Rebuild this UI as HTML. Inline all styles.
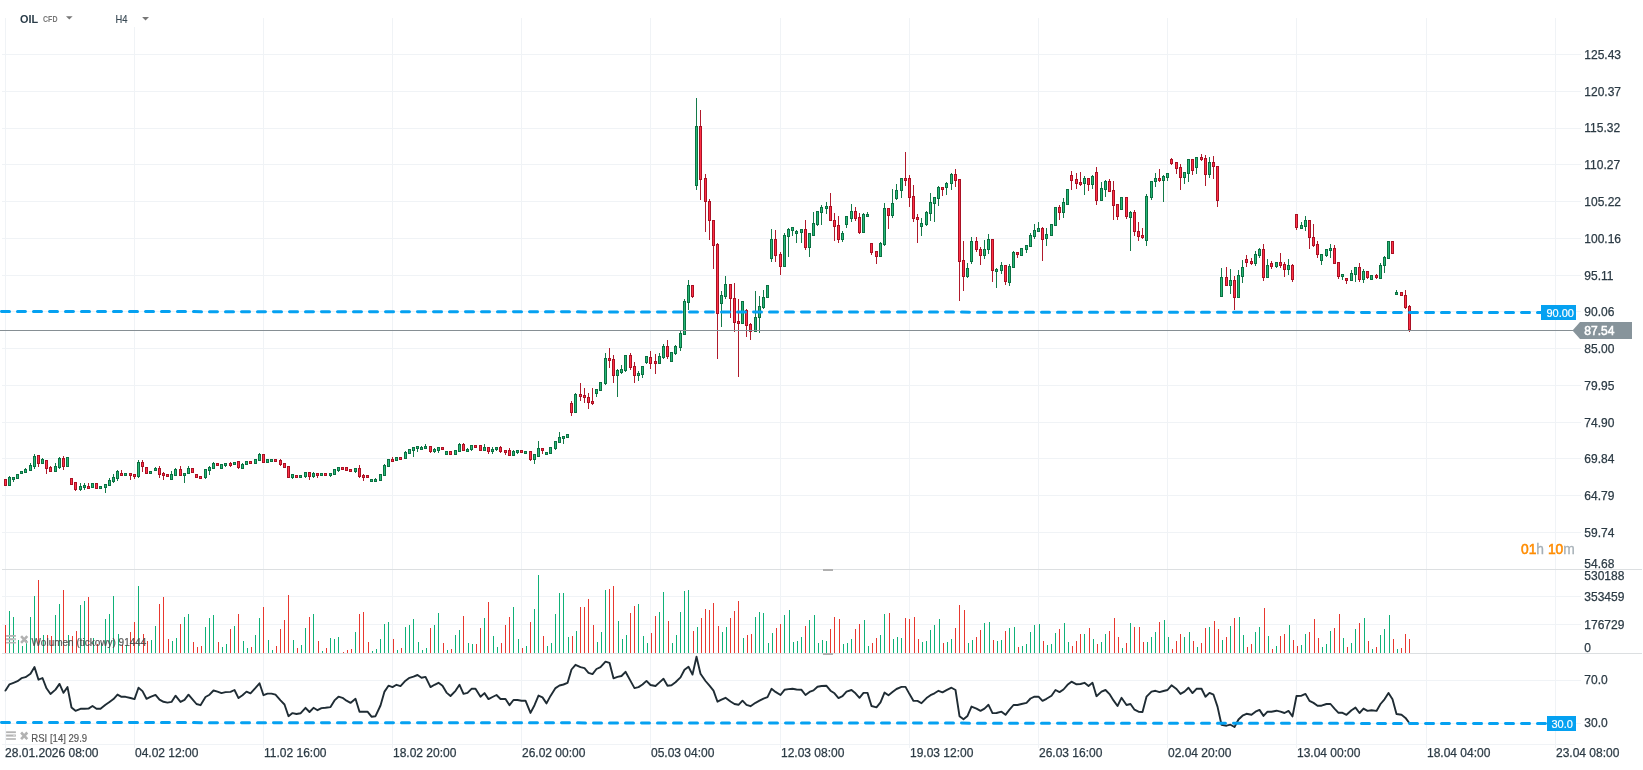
<!DOCTYPE html>
<html><head><meta charset="utf-8"><title>OIL H4</title>
<style>html,body{margin:0;padding:0;background:#fff;}body{width:1643px;height:770px;overflow:hidden;position:relative;font-family:"Liberation Sans",sans-serif;}</style>
</head><body>
<svg width="1643" height="770" viewBox="0 0 1643 770" style="position:absolute;left:0;top:0;will-change:transform">
<g shape-rendering="crispEdges">
<rect x="5" y="18" width="1" height="730" fill="#f0f3f6"/>
<rect x="134" y="27" width="1" height="721" fill="#f0f3f6"/>
<rect x="263" y="18" width="1" height="730" fill="#f0f3f6"/>
<rect x="392" y="18" width="1" height="730" fill="#f0f3f6"/>
<rect x="521" y="18" width="1" height="730" fill="#f0f3f6"/>
<rect x="650" y="18" width="1" height="730" fill="#f0f3f6"/>
<rect x="780" y="18" width="1" height="730" fill="#f0f3f6"/>
<rect x="909" y="18" width="1" height="730" fill="#f0f3f6"/>
<rect x="1038" y="18" width="1" height="730" fill="#f0f3f6"/>
<rect x="1167" y="18" width="1" height="730" fill="#f0f3f6"/>
<rect x="1296" y="18" width="1" height="730" fill="#f0f3f6"/>
<rect x="1426" y="18" width="1" height="730" fill="#f0f3f6"/>
<rect x="1555" y="18" width="1" height="730" fill="#f0f3f6"/>
<rect x="2" y="54" width="1579" height="1" fill="#f0f3f6"/>
<rect x="2" y="91" width="1579" height="1" fill="#f0f3f6"/>
<rect x="2" y="128" width="1579" height="1" fill="#f0f3f6"/>
<rect x="2" y="164" width="1579" height="1" fill="#f0f3f6"/>
<rect x="2" y="201" width="1579" height="1" fill="#f0f3f6"/>
<rect x="2" y="238" width="1579" height="1" fill="#f0f3f6"/>
<rect x="2" y="275" width="1579" height="1" fill="#f0f3f6"/>
<rect x="2" y="311" width="1579" height="1" fill="#f0f3f6"/>
<rect x="2" y="348" width="1579" height="1" fill="#f0f3f6"/>
<rect x="2" y="385" width="1579" height="1" fill="#f0f3f6"/>
<rect x="2" y="422" width="1579" height="1" fill="#f0f3f6"/>
<rect x="2" y="458" width="1579" height="1" fill="#f0f3f6"/>
<rect x="2" y="495" width="1579" height="1" fill="#f0f3f6"/>
<rect x="2" y="532" width="1579" height="1" fill="#f0f3f6"/>
<rect x="2" y="569" width="1579" height="1" fill="#f0f3f6"/>
<rect x="2" y="596" width="1579" height="1" fill="#f0f3f6"/>
<rect x="2" y="624" width="1579" height="1" fill="#f0f3f6"/>
<rect x="2" y="680" width="1579" height="1" fill="#f0f3f6"/>
<rect x="2" y="723" width="1579" height="1" fill="#f0f3f6"/>
<rect x="2" y="744" width="1573" height="1" fill="#f0f3f6"/>
<rect x="2" y="569" width="1640" height="1" fill="#dcdfe1"/>
<rect x="2" y="653" width="1640" height="1" fill="#dcdfe1"/>
<rect x="823" y="569" width="10" height="2" fill="#b0b0b0"/>
<rect x="823" y="653" width="10" height="2" fill="#b0b0b0"/>
</g>
<g shape-rendering="crispEdges">
<rect x="5" y="625" width="1" height="28" fill="#e8382f"/>
<rect x="9" y="611" width="1" height="42" fill="#0fb178"/>
<rect x="13" y="617" width="1" height="36" fill="#0fb178"/>
<rect x="18" y="640" width="1" height="13" fill="#0fb178"/>
<rect x="22" y="646" width="1" height="7" fill="#0fb178"/>
<rect x="26" y="640" width="1" height="13" fill="#0fb178"/>
<rect x="30" y="617" width="1" height="36" fill="#0fb178"/>
<rect x="34" y="596" width="1" height="57" fill="#0fb178"/>
<rect x="38" y="580" width="1" height="73" fill="#e8382f"/>
<rect x="43" y="635" width="1" height="18" fill="#0fb178"/>
<rect x="47" y="635" width="1" height="18" fill="#e8382f"/>
<rect x="51" y="636" width="1" height="17" fill="#e8382f"/>
<rect x="55" y="615" width="1" height="38" fill="#0fb178"/>
<rect x="59" y="604" width="1" height="49" fill="#0fb178"/>
<rect x="63" y="590" width="1" height="63" fill="#e8382f"/>
<rect x="68" y="635" width="1" height="18" fill="#0fb178"/>
<rect x="72" y="636" width="1" height="17" fill="#e8382f"/>
<rect x="76" y="631" width="1" height="22" fill="#e8382f"/>
<rect x="80" y="605" width="1" height="48" fill="#0fb178"/>
<rect x="84" y="601" width="1" height="52" fill="#0fb178"/>
<rect x="88" y="597" width="1" height="56" fill="#e8382f"/>
<rect x="93" y="638" width="1" height="15" fill="#0fb178"/>
<rect x="97" y="644" width="1" height="9" fill="#e8382f"/>
<rect x="101" y="643" width="1" height="10" fill="#0fb178"/>
<rect x="105" y="619" width="1" height="34" fill="#0fb178"/>
<rect x="109" y="614" width="1" height="39" fill="#0fb178"/>
<rect x="113" y="596" width="1" height="57" fill="#0fb178"/>
<rect x="118" y="634" width="1" height="19" fill="#0fb178"/>
<rect x="122" y="645" width="1" height="8" fill="#e8382f"/>
<rect x="126" y="645" width="1" height="8" fill="#0fb178"/>
<rect x="130" y="632" width="1" height="21" fill="#e8382f"/>
<rect x="134" y="622" width="1" height="31" fill="#e8382f"/>
<rect x="138" y="586" width="1" height="67" fill="#0fb178"/>
<rect x="143" y="634" width="1" height="19" fill="#e8382f"/>
<rect x="147" y="641" width="1" height="12" fill="#e8382f"/>
<rect x="151" y="640" width="1" height="13" fill="#0fb178"/>
<rect x="155" y="626" width="1" height="27" fill="#0fb178"/>
<rect x="159" y="604" width="1" height="49" fill="#e8382f"/>
<rect x="163" y="597" width="1" height="56" fill="#e8382f"/>
<rect x="168" y="639" width="1" height="14" fill="#e8382f"/>
<rect x="172" y="641" width="1" height="12" fill="#0fb178"/>
<rect x="176" y="638" width="1" height="15" fill="#0fb178"/>
<rect x="180" y="624" width="1" height="29" fill="#e8382f"/>
<rect x="184" y="617" width="1" height="36" fill="#0fb178"/>
<rect x="188" y="614" width="1" height="39" fill="#0fb178"/>
<rect x="193" y="642" width="1" height="11" fill="#e8382f"/>
<rect x="197" y="647" width="1" height="6" fill="#e8382f"/>
<rect x="201" y="646" width="1" height="7" fill="#e8382f"/>
<rect x="205" y="627" width="1" height="26" fill="#0fb178"/>
<rect x="209" y="618" width="1" height="35" fill="#0fb178"/>
<rect x="213" y="615" width="1" height="38" fill="#0fb178"/>
<rect x="218" y="642" width="1" height="11" fill="#e8382f"/>
<rect x="222" y="647" width="1" height="6" fill="#0fb178"/>
<rect x="226" y="644" width="1" height="9" fill="#0fb178"/>
<rect x="230" y="629" width="1" height="24" fill="#e8382f"/>
<rect x="234" y="626" width="1" height="27" fill="#0fb178"/>
<rect x="238" y="614" width="1" height="39" fill="#e8382f"/>
<rect x="243" y="641" width="1" height="12" fill="#0fb178"/>
<rect x="247" y="648" width="1" height="5" fill="#0fb178"/>
<rect x="251" y="647" width="1" height="6" fill="#e8382f"/>
<rect x="255" y="635" width="1" height="18" fill="#0fb178"/>
<rect x="259" y="618" width="1" height="35" fill="#0fb178"/>
<rect x="263" y="607" width="1" height="46" fill="#e8382f"/>
<rect x="268" y="640" width="1" height="13" fill="#0fb178"/>
<rect x="272" y="650" width="1" height="3" fill="#0fb178"/>
<rect x="276" y="646" width="1" height="7" fill="#e8382f"/>
<rect x="280" y="629" width="1" height="24" fill="#e8382f"/>
<rect x="284" y="620" width="1" height="33" fill="#e8382f"/>
<rect x="288" y="595" width="1" height="58" fill="#e8382f"/>
<rect x="293" y="640" width="1" height="13" fill="#0fb178"/>
<rect x="297" y="648" width="1" height="5" fill="#e8382f"/>
<rect x="301" y="645" width="1" height="8" fill="#0fb178"/>
<rect x="305" y="628" width="1" height="25" fill="#0fb178"/>
<rect x="309" y="617" width="1" height="36" fill="#e8382f"/>
<rect x="313" y="614" width="1" height="39" fill="#0fb178"/>
<rect x="318" y="641" width="1" height="12" fill="#e8382f"/>
<rect x="322" y="651" width="1" height="2" fill="#0fb178"/>
<rect x="326" y="648" width="1" height="5" fill="#e8382f"/>
<rect x="330" y="638" width="1" height="15" fill="#0fb178"/>
<rect x="334" y="639" width="1" height="14" fill="#0fb178"/>
<rect x="338" y="637" width="1" height="16" fill="#0fb178"/>
<rect x="343" y="652" width="1" height="1" fill="#e8382f"/>
<rect x="347" y="650" width="1" height="3" fill="#e8382f"/>
<rect x="351" y="649" width="1" height="4" fill="#e8382f"/>
<rect x="355" y="632" width="1" height="21" fill="#0fb178"/>
<rect x="359" y="614" width="1" height="39" fill="#e8382f"/>
<rect x="363" y="612" width="1" height="41" fill="#e8382f"/>
<rect x="368" y="642" width="1" height="11" fill="#e8382f"/>
<rect x="372" y="651" width="1" height="2" fill="#0fb178"/>
<rect x="376" y="649" width="1" height="4" fill="#0fb178"/>
<rect x="380" y="639" width="1" height="14" fill="#0fb178"/>
<rect x="384" y="624" width="1" height="29" fill="#0fb178"/>
<rect x="388" y="622" width="1" height="31" fill="#0fb178"/>
<rect x="393" y="639" width="1" height="14" fill="#e8382f"/>
<rect x="397" y="650" width="1" height="3" fill="#0fb178"/>
<rect x="401" y="648" width="1" height="5" fill="#e8382f"/>
<rect x="405" y="627" width="1" height="26" fill="#0fb178"/>
<rect x="409" y="625" width="1" height="28" fill="#0fb178"/>
<rect x="413" y="619" width="1" height="34" fill="#0fb178"/>
<rect x="418" y="642" width="1" height="11" fill="#0fb178"/>
<rect x="422" y="650" width="1" height="3" fill="#0fb178"/>
<rect x="426" y="648" width="1" height="5" fill="#0fb178"/>
<rect x="430" y="628" width="1" height="25" fill="#e8382f"/>
<rect x="434" y="625" width="1" height="28" fill="#0fb178"/>
<rect x="438" y="613" width="1" height="40" fill="#0fb178"/>
<rect x="443" y="643" width="1" height="10" fill="#e8382f"/>
<rect x="447" y="650" width="1" height="3" fill="#0fb178"/>
<rect x="451" y="649" width="1" height="4" fill="#e8382f"/>
<rect x="455" y="635" width="1" height="18" fill="#0fb178"/>
<rect x="459" y="630" width="1" height="23" fill="#0fb178"/>
<rect x="463" y="616" width="1" height="37" fill="#e8382f"/>
<rect x="468" y="643" width="1" height="10" fill="#0fb178"/>
<rect x="472" y="644" width="1" height="9" fill="#0fb178"/>
<rect x="476" y="644" width="1" height="9" fill="#e8382f"/>
<rect x="480" y="628" width="1" height="25" fill="#e8382f"/>
<rect x="484" y="618" width="1" height="35" fill="#0fb178"/>
<rect x="488" y="602" width="1" height="51" fill="#e8382f"/>
<rect x="493" y="636" width="1" height="17" fill="#0fb178"/>
<rect x="497" y="647" width="1" height="6" fill="#0fb178"/>
<rect x="501" y="643" width="1" height="10" fill="#e8382f"/>
<rect x="505" y="625" width="1" height="28" fill="#e8382f"/>
<rect x="509" y="617" width="1" height="36" fill="#e8382f"/>
<rect x="513" y="607" width="1" height="46" fill="#0fb178"/>
<rect x="518" y="639" width="1" height="14" fill="#0fb178"/>
<rect x="522" y="648" width="1" height="5" fill="#e8382f"/>
<rect x="526" y="646" width="1" height="7" fill="#0fb178"/>
<rect x="530" y="622" width="1" height="31" fill="#e8382f"/>
<rect x="534" y="609" width="1" height="44" fill="#0fb178"/>
<rect x="538" y="575" width="1" height="78" fill="#0fb178"/>
<rect x="543" y="636" width="1" height="17" fill="#e8382f"/>
<rect x="547" y="646" width="1" height="7" fill="#0fb178"/>
<rect x="551" y="643" width="1" height="10" fill="#0fb178"/>
<rect x="555" y="614" width="1" height="39" fill="#0fb178"/>
<rect x="559" y="593" width="1" height="60" fill="#0fb178"/>
<rect x="563" y="593" width="1" height="60" fill="#0fb178"/>
<rect x="568" y="637" width="1" height="16" fill="#0fb178"/>
<rect x="572" y="636" width="1" height="17" fill="#e8382f"/>
<rect x="576" y="631" width="1" height="22" fill="#0fb178"/>
<rect x="580" y="607" width="1" height="46" fill="#e8382f"/>
<rect x="584" y="607" width="1" height="46" fill="#e8382f"/>
<rect x="588" y="599" width="1" height="54" fill="#e8382f"/>
<rect x="593" y="625" width="1" height="28" fill="#e8382f"/>
<rect x="597" y="642" width="1" height="11" fill="#0fb178"/>
<rect x="601" y="632" width="1" height="21" fill="#0fb178"/>
<rect x="605" y="590" width="1" height="63" fill="#0fb178"/>
<rect x="609" y="589" width="1" height="64" fill="#e8382f"/>
<rect x="613" y="586" width="1" height="67" fill="#e8382f"/>
<rect x="618" y="621" width="1" height="32" fill="#0fb178"/>
<rect x="622" y="639" width="1" height="14" fill="#0fb178"/>
<rect x="626" y="635" width="1" height="18" fill="#0fb178"/>
<rect x="630" y="613" width="1" height="40" fill="#e8382f"/>
<rect x="634" y="606" width="1" height="47" fill="#e8382f"/>
<rect x="638" y="604" width="1" height="49" fill="#0fb178"/>
<rect x="643" y="636" width="1" height="17" fill="#0fb178"/>
<rect x="647" y="643" width="1" height="10" fill="#0fb178"/>
<rect x="651" y="633" width="1" height="20" fill="#e8382f"/>
<rect x="655" y="616" width="1" height="37" fill="#e8382f"/>
<rect x="659" y="612" width="1" height="41" fill="#0fb178"/>
<rect x="663" y="592" width="1" height="61" fill="#0fb178"/>
<rect x="668" y="621" width="1" height="32" fill="#e8382f"/>
<rect x="672" y="643" width="1" height="10" fill="#0fb178"/>
<rect x="676" y="635" width="1" height="18" fill="#0fb178"/>
<rect x="680" y="612" width="1" height="41" fill="#0fb178"/>
<rect x="684" y="591" width="1" height="62" fill="#0fb178"/>
<rect x="688" y="590" width="1" height="63" fill="#0fb178"/>
<rect x="693" y="631" width="1" height="22" fill="#e8382f"/>
<rect x="697" y="627" width="1" height="26" fill="#0fb178"/>
<rect x="701" y="618" width="1" height="35" fill="#e8382f"/>
<rect x="705" y="609" width="1" height="44" fill="#e8382f"/>
<rect x="709" y="610" width="1" height="43" fill="#e8382f"/>
<rect x="713" y="603" width="1" height="50" fill="#e8382f"/>
<rect x="718" y="626" width="1" height="27" fill="#e8382f"/>
<rect x="722" y="632" width="1" height="21" fill="#0fb178"/>
<rect x="726" y="627" width="1" height="26" fill="#0fb178"/>
<rect x="730" y="618" width="1" height="35" fill="#e8382f"/>
<rect x="734" y="611" width="1" height="42" fill="#e8382f"/>
<rect x="738" y="601" width="1" height="52" fill="#e8382f"/>
<rect x="743" y="638" width="1" height="15" fill="#0fb178"/>
<rect x="747" y="635" width="1" height="18" fill="#e8382f"/>
<rect x="751" y="634" width="1" height="19" fill="#e8382f"/>
<rect x="755" y="617" width="1" height="36" fill="#0fb178"/>
<rect x="759" y="612" width="1" height="41" fill="#0fb178"/>
<rect x="763" y="613" width="1" height="40" fill="#0fb178"/>
<rect x="768" y="643" width="1" height="10" fill="#0fb178"/>
<rect x="772" y="633" width="1" height="20" fill="#0fb178"/>
<rect x="776" y="628" width="1" height="25" fill="#e8382f"/>
<rect x="780" y="624" width="1" height="29" fill="#e8382f"/>
<rect x="784" y="615" width="1" height="38" fill="#0fb178"/>
<rect x="789" y="610" width="1" height="43" fill="#0fb178"/>
<rect x="793" y="642" width="1" height="11" fill="#0fb178"/>
<rect x="797" y="641" width="1" height="12" fill="#0fb178"/>
<rect x="801" y="637" width="1" height="16" fill="#0fb178"/>
<rect x="805" y="626" width="1" height="27" fill="#e8382f"/>
<rect x="809" y="620" width="1" height="33" fill="#0fb178"/>
<rect x="814" y="615" width="1" height="38" fill="#0fb178"/>
<rect x="818" y="643" width="1" height="10" fill="#0fb178"/>
<rect x="822" y="640" width="1" height="13" fill="#0fb178"/>
<rect x="826" y="641" width="1" height="12" fill="#0fb178"/>
<rect x="830" y="629" width="1" height="24" fill="#e8382f"/>
<rect x="834" y="617" width="1" height="36" fill="#e8382f"/>
<rect x="839" y="619" width="1" height="34" fill="#e8382f"/>
<rect x="843" y="644" width="1" height="9" fill="#0fb178"/>
<rect x="847" y="643" width="1" height="10" fill="#0fb178"/>
<rect x="851" y="639" width="1" height="14" fill="#0fb178"/>
<rect x="855" y="629" width="1" height="24" fill="#e8382f"/>
<rect x="859" y="624" width="1" height="29" fill="#e8382f"/>
<rect x="864" y="620" width="1" height="33" fill="#0fb178"/>
<rect x="868" y="646" width="1" height="7" fill="#0fb178"/>
<rect x="872" y="643" width="1" height="10" fill="#e8382f"/>
<rect x="876" y="638" width="1" height="15" fill="#e8382f"/>
<rect x="880" y="635" width="1" height="18" fill="#0fb178"/>
<rect x="884" y="614" width="1" height="39" fill="#0fb178"/>
<rect x="889" y="613" width="1" height="40" fill="#e8382f"/>
<rect x="893" y="639" width="1" height="14" fill="#0fb178"/>
<rect x="897" y="637" width="1" height="16" fill="#0fb178"/>
<rect x="901" y="638" width="1" height="15" fill="#0fb178"/>
<rect x="905" y="618" width="1" height="35" fill="#e8382f"/>
<rect x="909" y="619" width="1" height="34" fill="#e8382f"/>
<rect x="914" y="617" width="1" height="36" fill="#e8382f"/>
<rect x="918" y="639" width="1" height="14" fill="#e8382f"/>
<rect x="922" y="642" width="1" height="11" fill="#0fb178"/>
<rect x="926" y="641" width="1" height="12" fill="#0fb178"/>
<rect x="930" y="630" width="1" height="23" fill="#0fb178"/>
<rect x="934" y="625" width="1" height="28" fill="#0fb178"/>
<rect x="939" y="619" width="1" height="34" fill="#0fb178"/>
<rect x="943" y="643" width="1" height="10" fill="#e8382f"/>
<rect x="947" y="642" width="1" height="11" fill="#0fb178"/>
<rect x="951" y="639" width="1" height="14" fill="#0fb178"/>
<rect x="955" y="628" width="1" height="25" fill="#e8382f"/>
<rect x="959" y="605" width="1" height="48" fill="#e8382f"/>
<rect x="964" y="610" width="1" height="43" fill="#e8382f"/>
<rect x="968" y="643" width="1" height="10" fill="#0fb178"/>
<rect x="972" y="640" width="1" height="13" fill="#0fb178"/>
<rect x="976" y="637" width="1" height="16" fill="#e8382f"/>
<rect x="980" y="630" width="1" height="23" fill="#e8382f"/>
<rect x="984" y="623" width="1" height="30" fill="#0fb178"/>
<rect x="989" y="622" width="1" height="31" fill="#0fb178"/>
<rect x="993" y="640" width="1" height="13" fill="#e8382f"/>
<rect x="997" y="641" width="1" height="12" fill="#0fb178"/>
<rect x="1001" y="640" width="1" height="13" fill="#0fb178"/>
<rect x="1005" y="631" width="1" height="22" fill="#e8382f"/>
<rect x="1009" y="628" width="1" height="25" fill="#0fb178"/>
<rect x="1014" y="627" width="1" height="26" fill="#0fb178"/>
<rect x="1018" y="647" width="1" height="6" fill="#e8382f"/>
<rect x="1022" y="646" width="1" height="7" fill="#0fb178"/>
<rect x="1026" y="644" width="1" height="9" fill="#0fb178"/>
<rect x="1030" y="632" width="1" height="21" fill="#0fb178"/>
<rect x="1034" y="625" width="1" height="28" fill="#0fb178"/>
<rect x="1039" y="624" width="1" height="29" fill="#0fb178"/>
<rect x="1043" y="641" width="1" height="12" fill="#e8382f"/>
<rect x="1047" y="645" width="1" height="8" fill="#0fb178"/>
<rect x="1051" y="644" width="1" height="9" fill="#0fb178"/>
<rect x="1055" y="633" width="1" height="20" fill="#0fb178"/>
<rect x="1059" y="629" width="1" height="24" fill="#e8382f"/>
<rect x="1064" y="623" width="1" height="30" fill="#0fb178"/>
<rect x="1068" y="642" width="1" height="11" fill="#0fb178"/>
<rect x="1072" y="646" width="1" height="7" fill="#e8382f"/>
<rect x="1076" y="641" width="1" height="12" fill="#e8382f"/>
<rect x="1080" y="634" width="1" height="19" fill="#e8382f"/>
<rect x="1084" y="634" width="1" height="19" fill="#0fb178"/>
<rect x="1089" y="628" width="1" height="25" fill="#e8382f"/>
<rect x="1093" y="639" width="1" height="14" fill="#0fb178"/>
<rect x="1097" y="644" width="1" height="9" fill="#e8382f"/>
<rect x="1101" y="642" width="1" height="11" fill="#0fb178"/>
<rect x="1105" y="634" width="1" height="19" fill="#0fb178"/>
<rect x="1109" y="631" width="1" height="22" fill="#e8382f"/>
<rect x="1114" y="618" width="1" height="35" fill="#e8382f"/>
<rect x="1118" y="637" width="1" height="16" fill="#e8382f"/>
<rect x="1122" y="648" width="1" height="5" fill="#0fb178"/>
<rect x="1126" y="643" width="1" height="10" fill="#e8382f"/>
<rect x="1130" y="623" width="1" height="30" fill="#0fb178"/>
<rect x="1134" y="627" width="1" height="26" fill="#e8382f"/>
<rect x="1139" y="627" width="1" height="26" fill="#e8382f"/>
<rect x="1143" y="642" width="1" height="11" fill="#e8382f"/>
<rect x="1147" y="642" width="1" height="11" fill="#0fb178"/>
<rect x="1151" y="637" width="1" height="16" fill="#0fb178"/>
<rect x="1155" y="632" width="1" height="21" fill="#0fb178"/>
<rect x="1159" y="622" width="1" height="31" fill="#e8382f"/>
<rect x="1164" y="620" width="1" height="33" fill="#0fb178"/>
<rect x="1168" y="637" width="1" height="16" fill="#0fb178"/>
<rect x="1172" y="649" width="1" height="4" fill="#e8382f"/>
<rect x="1176" y="641" width="1" height="12" fill="#e8382f"/>
<rect x="1180" y="634" width="1" height="19" fill="#e8382f"/>
<rect x="1184" y="637" width="1" height="16" fill="#0fb178"/>
<rect x="1189" y="632" width="1" height="21" fill="#0fb178"/>
<rect x="1193" y="641" width="1" height="12" fill="#e8382f"/>
<rect x="1197" y="647" width="1" height="6" fill="#0fb178"/>
<rect x="1201" y="643" width="1" height="10" fill="#e8382f"/>
<rect x="1205" y="628" width="1" height="25" fill="#e8382f"/>
<rect x="1209" y="627" width="1" height="26" fill="#0fb178"/>
<rect x="1214" y="621" width="1" height="32" fill="#e8382f"/>
<rect x="1218" y="629" width="1" height="24" fill="#e8382f"/>
<rect x="1222" y="640" width="1" height="13" fill="#0fb178"/>
<rect x="1226" y="637" width="1" height="16" fill="#e8382f"/>
<rect x="1230" y="626" width="1" height="27" fill="#0fb178"/>
<rect x="1234" y="618" width="1" height="35" fill="#e8382f"/>
<rect x="1239" y="617" width="1" height="36" fill="#0fb178"/>
<rect x="1243" y="635" width="1" height="18" fill="#0fb178"/>
<rect x="1247" y="647" width="1" height="6" fill="#e8382f"/>
<rect x="1251" y="644" width="1" height="9" fill="#e8382f"/>
<rect x="1255" y="632" width="1" height="21" fill="#0fb178"/>
<rect x="1259" y="627" width="1" height="26" fill="#0fb178"/>
<rect x="1264" y="608" width="1" height="45" fill="#e8382f"/>
<rect x="1268" y="636" width="1" height="17" fill="#0fb178"/>
<rect x="1272" y="649" width="1" height="4" fill="#e8382f"/>
<rect x="1276" y="646" width="1" height="7" fill="#0fb178"/>
<rect x="1280" y="636" width="1" height="17" fill="#e8382f"/>
<rect x="1284" y="634" width="1" height="19" fill="#e8382f"/>
<rect x="1289" y="625" width="1" height="28" fill="#0fb178"/>
<rect x="1293" y="640" width="1" height="13" fill="#e8382f"/>
<rect x="1297" y="646" width="1" height="7" fill="#e8382f"/>
<rect x="1301" y="645" width="1" height="8" fill="#0fb178"/>
<rect x="1305" y="634" width="1" height="19" fill="#0fb178"/>
<rect x="1309" y="632" width="1" height="21" fill="#e8382f"/>
<rect x="1314" y="619" width="1" height="34" fill="#e8382f"/>
<rect x="1318" y="638" width="1" height="15" fill="#e8382f"/>
<rect x="1322" y="647" width="1" height="6" fill="#0fb178"/>
<rect x="1326" y="644" width="1" height="9" fill="#0fb178"/>
<rect x="1330" y="631" width="1" height="22" fill="#0fb178"/>
<rect x="1334" y="628" width="1" height="25" fill="#e8382f"/>
<rect x="1339" y="614" width="1" height="39" fill="#e8382f"/>
<rect x="1343" y="638" width="1" height="15" fill="#0fb178"/>
<rect x="1347" y="647" width="1" height="6" fill="#e8382f"/>
<rect x="1351" y="643" width="1" height="10" fill="#0fb178"/>
<rect x="1355" y="629" width="1" height="24" fill="#0fb178"/>
<rect x="1359" y="623" width="1" height="30" fill="#e8382f"/>
<rect x="1364" y="618" width="1" height="35" fill="#0fb178"/>
<rect x="1368" y="641" width="1" height="12" fill="#e8382f"/>
<rect x="1372" y="649" width="1" height="4" fill="#0fb178"/>
<rect x="1376" y="647" width="1" height="6" fill="#e8382f"/>
<rect x="1380" y="635" width="1" height="18" fill="#0fb178"/>
<rect x="1384" y="629" width="1" height="24" fill="#0fb178"/>
<rect x="1389" y="615" width="1" height="38" fill="#0fb178"/>
<rect x="1393" y="639" width="1" height="14" fill="#e8382f"/>
<rect x="1397" y="649" width="1" height="4" fill="#0fb178"/>
<rect x="1401" y="648" width="1" height="5" fill="#e8382f"/>
<rect x="1405" y="634" width="1" height="19" fill="#e8382f"/>
<rect x="1409" y="639" width="1" height="14" fill="#e8382f"/>
</g>
<g shape-rendering="crispEdges">
<rect x="4" y="479" width="3" height="7" fill="#aa1124"/>
<rect x="5" y="480" width="1" height="5" fill="#ff3046"/>
<rect x="9" y="476" width="1" height="10" fill="#147a4a"/>
<rect x="8" y="477" width="3" height="9" fill="#0b7142"/>
<rect x="9" y="478" width="1" height="7" fill="#26b777"/>
<rect x="13" y="477" width="1" height="5" fill="#147a4a"/>
<rect x="12" y="477" width="3" height="3" fill="#0b7142"/>
<rect x="13" y="478" width="1" height="1" fill="#26b777"/>
<rect x="16" y="474" width="3" height="5" fill="#0b7142"/>
<rect x="17" y="475" width="1" height="3" fill="#26b777"/>
<rect x="20" y="471" width="3" height="3" fill="#0b7142"/>
<rect x="21" y="472" width="1" height="1" fill="#26b777"/>
<rect x="25" y="468" width="1" height="5" fill="#147a4a"/>
<rect x="24" y="469" width="3" height="4" fill="#0b7142"/>
<rect x="25" y="470" width="1" height="2" fill="#26b777"/>
<rect x="30" y="463" width="1" height="8" fill="#147a4a"/>
<rect x="29" y="465" width="3" height="6" fill="#0b7142"/>
<rect x="30" y="466" width="1" height="4" fill="#26b777"/>
<rect x="34" y="454" width="1" height="15" fill="#147a4a"/>
<rect x="33" y="456" width="3" height="11" fill="#0b7142"/>
<rect x="34" y="457" width="1" height="9" fill="#26b777"/>
<rect x="38" y="455" width="1" height="12" fill="#b01a2c"/>
<rect x="37" y="455" width="3" height="9" fill="#aa1124"/>
<rect x="38" y="456" width="1" height="7" fill="#ff3046"/>
<rect x="42" y="458" width="1" height="6" fill="#147a4a"/>
<rect x="41" y="459" width="3" height="5" fill="#0b7142"/>
<rect x="42" y="460" width="1" height="3" fill="#26b777"/>
<rect x="46" y="460" width="1" height="14" fill="#b01a2c"/>
<rect x="45" y="460" width="3" height="9" fill="#aa1124"/>
<rect x="46" y="461" width="1" height="7" fill="#ff3046"/>
<rect x="50" y="466" width="1" height="6" fill="#b01a2c"/>
<rect x="49" y="467" width="3" height="5" fill="#aa1124"/>
<rect x="50" y="468" width="1" height="3" fill="#ff3046"/>
<rect x="55" y="463" width="1" height="9" fill="#147a4a"/>
<rect x="54" y="466" width="3" height="6" fill="#0b7142"/>
<rect x="55" y="467" width="1" height="4" fill="#26b777"/>
<rect x="59" y="457" width="1" height="12" fill="#147a4a"/>
<rect x="58" y="458" width="3" height="10" fill="#0b7142"/>
<rect x="59" y="459" width="1" height="8" fill="#26b777"/>
<rect x="63" y="456" width="1" height="14" fill="#b01a2c"/>
<rect x="62" y="458" width="3" height="9" fill="#aa1124"/>
<rect x="63" y="459" width="1" height="7" fill="#ff3046"/>
<rect x="66" y="457" width="3" height="10" fill="#0b7142"/>
<rect x="67" y="458" width="1" height="8" fill="#26b777"/>
<rect x="70" y="478" width="3" height="7" fill="#aa1124"/>
<rect x="71" y="479" width="1" height="5" fill="#ff3046"/>
<rect x="75" y="482" width="1" height="9" fill="#b01a2c"/>
<rect x="74" y="482" width="3" height="8" fill="#aa1124"/>
<rect x="75" y="483" width="1" height="6" fill="#ff3046"/>
<rect x="80" y="483" width="1" height="8" fill="#147a4a"/>
<rect x="79" y="486" width="3" height="4" fill="#0b7142"/>
<rect x="80" y="487" width="1" height="2" fill="#26b777"/>
<rect x="84" y="483" width="1" height="7" fill="#147a4a"/>
<rect x="83" y="485" width="3" height="3" fill="#0b7142"/>
<rect x="84" y="486" width="1" height="1" fill="#26b777"/>
<rect x="88" y="483" width="1" height="6" fill="#b01a2c"/>
<rect x="87" y="486" width="3" height="3" fill="#aa1124"/>
<rect x="88" y="487" width="1" height="1" fill="#ff3046"/>
<rect x="91" y="483" width="3" height="5" fill="#0b7142"/>
<rect x="92" y="484" width="1" height="3" fill="#26b777"/>
<rect x="95" y="483" width="3" height="6" fill="#aa1124"/>
<rect x="96" y="484" width="1" height="4" fill="#ff3046"/>
<rect x="99" y="486" width="3" height="3" fill="#0b7142"/>
<rect x="100" y="487" width="1" height="1" fill="#26b777"/>
<rect x="105" y="484" width="1" height="9" fill="#147a4a"/>
<rect x="104" y="484" width="3" height="4" fill="#0b7142"/>
<rect x="105" y="485" width="1" height="2" fill="#26b777"/>
<rect x="109" y="478" width="1" height="8" fill="#147a4a"/>
<rect x="108" y="480" width="3" height="6" fill="#0b7142"/>
<rect x="109" y="481" width="1" height="4" fill="#26b777"/>
<rect x="113" y="474" width="1" height="9" fill="#147a4a"/>
<rect x="112" y="477" width="3" height="5" fill="#0b7142"/>
<rect x="113" y="478" width="1" height="3" fill="#26b777"/>
<rect x="117" y="470" width="1" height="11" fill="#147a4a"/>
<rect x="116" y="471" width="3" height="8" fill="#0b7142"/>
<rect x="117" y="472" width="1" height="6" fill="#26b777"/>
<rect x="121" y="470" width="1" height="6" fill="#b01a2c"/>
<rect x="120" y="473" width="3" height="3" fill="#aa1124"/>
<rect x="121" y="474" width="1" height="1" fill="#ff3046"/>
<rect x="124" y="473" width="3" height="3" fill="#0b7142"/>
<rect x="125" y="474" width="1" height="1" fill="#26b777"/>
<rect x="130" y="473" width="1" height="7" fill="#b01a2c"/>
<rect x="129" y="473" width="3" height="3" fill="#aa1124"/>
<rect x="130" y="474" width="1" height="1" fill="#ff3046"/>
<rect x="134" y="474" width="1" height="5" fill="#b01a2c"/>
<rect x="133" y="474" width="3" height="3" fill="#aa1124"/>
<rect x="134" y="475" width="1" height="1" fill="#ff3046"/>
<rect x="138" y="460" width="1" height="18" fill="#147a4a"/>
<rect x="137" y="462" width="3" height="15" fill="#0b7142"/>
<rect x="138" y="463" width="1" height="13" fill="#26b777"/>
<rect x="142" y="460" width="1" height="12" fill="#b01a2c"/>
<rect x="141" y="462" width="3" height="5" fill="#aa1124"/>
<rect x="142" y="463" width="1" height="3" fill="#ff3046"/>
<rect x="145" y="467" width="3" height="7" fill="#aa1124"/>
<rect x="146" y="468" width="1" height="5" fill="#ff3046"/>
<rect x="149" y="471" width="3" height="3" fill="#0b7142"/>
<rect x="150" y="472" width="1" height="1" fill="#26b777"/>
<rect x="155" y="467" width="1" height="4" fill="#147a4a"/>
<rect x="154" y="468" width="3" height="3" fill="#0b7142"/>
<rect x="155" y="469" width="1" height="1" fill="#26b777"/>
<rect x="159" y="466" width="1" height="12" fill="#b01a2c"/>
<rect x="158" y="468" width="3" height="7" fill="#aa1124"/>
<rect x="159" y="469" width="1" height="5" fill="#ff3046"/>
<rect x="163" y="472" width="1" height="8" fill="#b01a2c"/>
<rect x="162" y="473" width="3" height="3" fill="#aa1124"/>
<rect x="163" y="474" width="1" height="1" fill="#ff3046"/>
<rect x="166" y="474" width="3" height="3" fill="#aa1124"/>
<rect x="167" y="475" width="1" height="1" fill="#ff3046"/>
<rect x="171" y="471" width="1" height="9" fill="#147a4a"/>
<rect x="170" y="474" width="3" height="6" fill="#0b7142"/>
<rect x="171" y="475" width="1" height="4" fill="#26b777"/>
<rect x="175" y="468" width="1" height="8" fill="#147a4a"/>
<rect x="174" y="469" width="3" height="7" fill="#0b7142"/>
<rect x="175" y="470" width="1" height="5" fill="#26b777"/>
<rect x="180" y="466" width="1" height="10" fill="#b01a2c"/>
<rect x="179" y="469" width="3" height="7" fill="#aa1124"/>
<rect x="180" y="470" width="1" height="5" fill="#ff3046"/>
<rect x="184" y="473" width="1" height="10" fill="#147a4a"/>
<rect x="183" y="473" width="3" height="3" fill="#0b7142"/>
<rect x="184" y="474" width="1" height="1" fill="#26b777"/>
<rect x="188" y="466" width="1" height="8" fill="#147a4a"/>
<rect x="187" y="468" width="3" height="6" fill="#0b7142"/>
<rect x="188" y="469" width="1" height="4" fill="#26b777"/>
<rect x="191" y="468" width="3" height="5" fill="#aa1124"/>
<rect x="192" y="469" width="1" height="3" fill="#ff3046"/>
<rect x="195" y="474" width="3" height="4" fill="#aa1124"/>
<rect x="196" y="475" width="1" height="2" fill="#ff3046"/>
<rect x="199" y="476" width="3" height="3" fill="#aa1124"/>
<rect x="200" y="477" width="1" height="1" fill="#ff3046"/>
<rect x="205" y="469" width="1" height="10" fill="#147a4a"/>
<rect x="204" y="469" width="3" height="9" fill="#0b7142"/>
<rect x="205" y="470" width="1" height="7" fill="#26b777"/>
<rect x="209" y="466" width="1" height="9" fill="#147a4a"/>
<rect x="208" y="467" width="3" height="4" fill="#0b7142"/>
<rect x="209" y="468" width="1" height="2" fill="#26b777"/>
<rect x="213" y="462" width="1" height="7" fill="#147a4a"/>
<rect x="212" y="463" width="3" height="6" fill="#0b7142"/>
<rect x="213" y="464" width="1" height="4" fill="#26b777"/>
<rect x="216" y="463" width="3" height="3" fill="#aa1124"/>
<rect x="217" y="464" width="1" height="1" fill="#ff3046"/>
<rect x="220" y="464" width="3" height="5" fill="#0b7142"/>
<rect x="221" y="465" width="1" height="3" fill="#26b777"/>
<rect x="225" y="463" width="1" height="4" fill="#147a4a"/>
<rect x="224" y="463" width="3" height="3" fill="#0b7142"/>
<rect x="225" y="464" width="1" height="1" fill="#26b777"/>
<rect x="230" y="462" width="1" height="5" fill="#b01a2c"/>
<rect x="229" y="463" width="3" height="3" fill="#aa1124"/>
<rect x="230" y="464" width="1" height="1" fill="#ff3046"/>
<rect x="233" y="462" width="3" height="3" fill="#0b7142"/>
<rect x="234" y="463" width="1" height="1" fill="#26b777"/>
<rect x="238" y="461" width="1" height="8" fill="#b01a2c"/>
<rect x="237" y="461" width="3" height="7" fill="#aa1124"/>
<rect x="238" y="462" width="1" height="5" fill="#ff3046"/>
<rect x="242" y="463" width="1" height="6" fill="#147a4a"/>
<rect x="241" y="464" width="3" height="5" fill="#0b7142"/>
<rect x="242" y="465" width="1" height="3" fill="#26b777"/>
<rect x="245" y="461" width="3" height="4" fill="#0b7142"/>
<rect x="246" y="462" width="1" height="2" fill="#26b777"/>
<rect x="249" y="461" width="3" height="3" fill="#aa1124"/>
<rect x="250" y="462" width="1" height="1" fill="#ff3046"/>
<rect x="254" y="459" width="3" height="5" fill="#0b7142"/>
<rect x="255" y="460" width="1" height="3" fill="#26b777"/>
<rect x="259" y="453" width="1" height="8" fill="#147a4a"/>
<rect x="258" y="454" width="3" height="7" fill="#0b7142"/>
<rect x="259" y="455" width="1" height="5" fill="#26b777"/>
<rect x="262" y="454" width="3" height="9" fill="#aa1124"/>
<rect x="263" y="455" width="1" height="7" fill="#ff3046"/>
<rect x="266" y="459" width="3" height="4" fill="#0b7142"/>
<rect x="267" y="460" width="1" height="2" fill="#26b777"/>
<rect x="270" y="459" width="3" height="3" fill="#0b7142"/>
<rect x="271" y="460" width="1" height="1" fill="#26b777"/>
<rect x="274" y="459" width="3" height="3" fill="#aa1124"/>
<rect x="275" y="460" width="1" height="1" fill="#ff3046"/>
<rect x="280" y="459" width="1" height="7" fill="#b01a2c"/>
<rect x="279" y="460" width="3" height="5" fill="#aa1124"/>
<rect x="280" y="461" width="1" height="3" fill="#ff3046"/>
<rect x="283" y="463" width="3" height="5" fill="#aa1124"/>
<rect x="284" y="464" width="1" height="3" fill="#ff3046"/>
<rect x="287" y="466" width="3" height="12" fill="#aa1124"/>
<rect x="288" y="467" width="1" height="10" fill="#ff3046"/>
<rect x="292" y="474" width="1" height="5" fill="#147a4a"/>
<rect x="291" y="474" width="3" height="4" fill="#0b7142"/>
<rect x="292" y="475" width="1" height="2" fill="#26b777"/>
<rect x="295" y="475" width="3" height="3" fill="#aa1124"/>
<rect x="296" y="476" width="1" height="1" fill="#ff3046"/>
<rect x="299" y="475" width="3" height="3" fill="#0b7142"/>
<rect x="300" y="476" width="1" height="1" fill="#26b777"/>
<rect x="305" y="472" width="1" height="6" fill="#147a4a"/>
<rect x="304" y="472" width="3" height="5" fill="#0b7142"/>
<rect x="305" y="473" width="1" height="3" fill="#26b777"/>
<rect x="309" y="472" width="1" height="8" fill="#b01a2c"/>
<rect x="308" y="472" width="3" height="5" fill="#aa1124"/>
<rect x="309" y="473" width="1" height="3" fill="#ff3046"/>
<rect x="313" y="472" width="1" height="6" fill="#147a4a"/>
<rect x="312" y="473" width="3" height="4" fill="#0b7142"/>
<rect x="313" y="474" width="1" height="2" fill="#26b777"/>
<rect x="317" y="473" width="1" height="5" fill="#b01a2c"/>
<rect x="316" y="473" width="3" height="3" fill="#aa1124"/>
<rect x="317" y="474" width="1" height="1" fill="#ff3046"/>
<rect x="320" y="473" width="3" height="3" fill="#0b7142"/>
<rect x="321" y="474" width="1" height="1" fill="#26b777"/>
<rect x="324" y="473" width="3" height="3" fill="#aa1124"/>
<rect x="325" y="474" width="1" height="1" fill="#ff3046"/>
<rect x="330" y="473" width="1" height="4" fill="#147a4a"/>
<rect x="329" y="473" width="3" height="3" fill="#0b7142"/>
<rect x="330" y="474" width="1" height="1" fill="#26b777"/>
<rect x="333" y="469" width="3" height="6" fill="#0b7142"/>
<rect x="334" y="470" width="1" height="4" fill="#26b777"/>
<rect x="338" y="467" width="1" height="5" fill="#147a4a"/>
<rect x="337" y="467" width="3" height="4" fill="#0b7142"/>
<rect x="338" y="468" width="1" height="2" fill="#26b777"/>
<rect x="341" y="467" width="3" height="3" fill="#aa1124"/>
<rect x="342" y="468" width="1" height="1" fill="#ff3046"/>
<rect x="345" y="467" width="3" height="4" fill="#aa1124"/>
<rect x="346" y="468" width="1" height="2" fill="#ff3046"/>
<rect x="349" y="469" width="3" height="3" fill="#aa1124"/>
<rect x="350" y="470" width="1" height="1" fill="#ff3046"/>
<rect x="355" y="468" width="1" height="5" fill="#147a4a"/>
<rect x="354" y="468" width="3" height="4" fill="#0b7142"/>
<rect x="355" y="469" width="1" height="2" fill="#26b777"/>
<rect x="359" y="465" width="1" height="13" fill="#b01a2c"/>
<rect x="358" y="468" width="3" height="9" fill="#aa1124"/>
<rect x="359" y="469" width="1" height="7" fill="#ff3046"/>
<rect x="363" y="474" width="1" height="7" fill="#b01a2c"/>
<rect x="362" y="475" width="3" height="3" fill="#aa1124"/>
<rect x="363" y="476" width="1" height="1" fill="#ff3046"/>
<rect x="366" y="475" width="3" height="3" fill="#aa1124"/>
<rect x="367" y="476" width="1" height="1" fill="#ff3046"/>
<rect x="370" y="479" width="3" height="3" fill="#0b7142"/>
<rect x="371" y="480" width="1" height="1" fill="#26b777"/>
<rect x="375" y="478" width="1" height="4" fill="#147a4a"/>
<rect x="374" y="479" width="3" height="3" fill="#0b7142"/>
<rect x="375" y="480" width="1" height="1" fill="#26b777"/>
<rect x="379" y="474" width="3" height="7" fill="#0b7142"/>
<rect x="380" y="475" width="1" height="5" fill="#26b777"/>
<rect x="384" y="464" width="1" height="12" fill="#147a4a"/>
<rect x="383" y="465" width="3" height="11" fill="#0b7142"/>
<rect x="384" y="466" width="1" height="9" fill="#26b777"/>
<rect x="387" y="459" width="3" height="8" fill="#0b7142"/>
<rect x="388" y="460" width="1" height="6" fill="#26b777"/>
<rect x="392" y="457" width="1" height="5" fill="#b01a2c"/>
<rect x="391" y="459" width="3" height="3" fill="#aa1124"/>
<rect x="392" y="460" width="1" height="1" fill="#ff3046"/>
<rect x="395" y="457" width="3" height="4" fill="#0b7142"/>
<rect x="396" y="458" width="1" height="2" fill="#26b777"/>
<rect x="399" y="457" width="3" height="3" fill="#aa1124"/>
<rect x="400" y="458" width="1" height="1" fill="#ff3046"/>
<rect x="405" y="451" width="1" height="8" fill="#147a4a"/>
<rect x="404" y="452" width="3" height="7" fill="#0b7142"/>
<rect x="405" y="453" width="1" height="5" fill="#26b777"/>
<rect x="408" y="449" width="3" height="5" fill="#0b7142"/>
<rect x="409" y="450" width="1" height="3" fill="#26b777"/>
<rect x="413" y="447" width="1" height="10" fill="#147a4a"/>
<rect x="412" y="447" width="3" height="4" fill="#0b7142"/>
<rect x="413" y="448" width="1" height="2" fill="#26b777"/>
<rect x="417" y="446" width="1" height="6" fill="#147a4a"/>
<rect x="416" y="446" width="3" height="3" fill="#0b7142"/>
<rect x="417" y="447" width="1" height="1" fill="#26b777"/>
<rect x="421" y="446" width="1" height="4" fill="#147a4a"/>
<rect x="420" y="447" width="3" height="3" fill="#0b7142"/>
<rect x="421" y="448" width="1" height="1" fill="#26b777"/>
<rect x="425" y="444" width="1" height="5" fill="#147a4a"/>
<rect x="424" y="446" width="3" height="3" fill="#0b7142"/>
<rect x="425" y="447" width="1" height="1" fill="#26b777"/>
<rect x="430" y="446" width="1" height="7" fill="#b01a2c"/>
<rect x="429" y="446" width="3" height="6" fill="#aa1124"/>
<rect x="430" y="447" width="1" height="4" fill="#ff3046"/>
<rect x="434" y="448" width="1" height="5" fill="#147a4a"/>
<rect x="433" y="449" width="3" height="3" fill="#0b7142"/>
<rect x="434" y="450" width="1" height="1" fill="#26b777"/>
<rect x="438" y="447" width="1" height="6" fill="#147a4a"/>
<rect x="437" y="447" width="3" height="4" fill="#0b7142"/>
<rect x="438" y="448" width="1" height="2" fill="#26b777"/>
<rect x="441" y="447" width="3" height="3" fill="#aa1124"/>
<rect x="442" y="448" width="1" height="1" fill="#ff3046"/>
<rect x="445" y="451" width="3" height="4" fill="#0b7142"/>
<rect x="446" y="452" width="1" height="2" fill="#26b777"/>
<rect x="449" y="451" width="3" height="4" fill="#aa1124"/>
<rect x="450" y="452" width="1" height="2" fill="#ff3046"/>
<rect x="454" y="450" width="3" height="5" fill="#0b7142"/>
<rect x="455" y="451" width="1" height="3" fill="#26b777"/>
<rect x="459" y="443" width="1" height="9" fill="#147a4a"/>
<rect x="458" y="444" width="3" height="8" fill="#0b7142"/>
<rect x="459" y="445" width="1" height="6" fill="#26b777"/>
<rect x="463" y="443" width="1" height="8" fill="#b01a2c"/>
<rect x="462" y="444" width="3" height="7" fill="#aa1124"/>
<rect x="463" y="445" width="1" height="5" fill="#ff3046"/>
<rect x="467" y="448" width="1" height="4" fill="#147a4a"/>
<rect x="466" y="449" width="3" height="3" fill="#0b7142"/>
<rect x="467" y="450" width="1" height="1" fill="#26b777"/>
<rect x="471" y="445" width="1" height="6" fill="#147a4a"/>
<rect x="470" y="445" width="3" height="5" fill="#0b7142"/>
<rect x="471" y="446" width="1" height="3" fill="#26b777"/>
<rect x="474" y="445" width="3" height="3" fill="#aa1124"/>
<rect x="475" y="446" width="1" height="1" fill="#ff3046"/>
<rect x="479" y="445" width="3" height="6" fill="#aa1124"/>
<rect x="480" y="446" width="1" height="4" fill="#ff3046"/>
<rect x="484" y="444" width="1" height="7" fill="#147a4a"/>
<rect x="483" y="447" width="3" height="4" fill="#0b7142"/>
<rect x="484" y="448" width="1" height="2" fill="#26b777"/>
<rect x="488" y="447" width="1" height="7" fill="#b01a2c"/>
<rect x="487" y="447" width="3" height="5" fill="#aa1124"/>
<rect x="488" y="448" width="1" height="3" fill="#ff3046"/>
<rect x="492" y="447" width="1" height="7" fill="#147a4a"/>
<rect x="491" y="449" width="3" height="3" fill="#0b7142"/>
<rect x="492" y="450" width="1" height="1" fill="#26b777"/>
<rect x="496" y="447" width="1" height="4" fill="#147a4a"/>
<rect x="495" y="447" width="3" height="3" fill="#0b7142"/>
<rect x="496" y="448" width="1" height="1" fill="#26b777"/>
<rect x="500" y="446" width="1" height="7" fill="#b01a2c"/>
<rect x="499" y="447" width="3" height="5" fill="#aa1124"/>
<rect x="500" y="448" width="1" height="3" fill="#ff3046"/>
<rect x="505" y="450" width="1" height="5" fill="#b01a2c"/>
<rect x="504" y="450" width="3" height="3" fill="#aa1124"/>
<rect x="505" y="451" width="1" height="1" fill="#ff3046"/>
<rect x="509" y="448" width="1" height="8" fill="#b01a2c"/>
<rect x="508" y="450" width="3" height="6" fill="#aa1124"/>
<rect x="509" y="451" width="1" height="4" fill="#ff3046"/>
<rect x="513" y="450" width="1" height="6" fill="#147a4a"/>
<rect x="512" y="451" width="3" height="5" fill="#0b7142"/>
<rect x="513" y="452" width="1" height="3" fill="#26b777"/>
<rect x="517" y="450" width="1" height="4" fill="#147a4a"/>
<rect x="516" y="450" width="3" height="3" fill="#0b7142"/>
<rect x="517" y="451" width="1" height="1" fill="#26b777"/>
<rect x="520" y="450" width="3" height="3" fill="#aa1124"/>
<rect x="521" y="451" width="1" height="1" fill="#ff3046"/>
<rect x="524" y="451" width="3" height="3" fill="#0b7142"/>
<rect x="525" y="452" width="1" height="1" fill="#26b777"/>
<rect x="530" y="451" width="1" height="10" fill="#b01a2c"/>
<rect x="529" y="451" width="3" height="9" fill="#aa1124"/>
<rect x="530" y="452" width="1" height="7" fill="#ff3046"/>
<rect x="534" y="454" width="1" height="10" fill="#147a4a"/>
<rect x="533" y="454" width="3" height="6" fill="#0b7142"/>
<rect x="534" y="455" width="1" height="4" fill="#26b777"/>
<rect x="538" y="441" width="1" height="16" fill="#147a4a"/>
<rect x="537" y="448" width="3" height="9" fill="#0b7142"/>
<rect x="538" y="449" width="1" height="7" fill="#26b777"/>
<rect x="542" y="448" width="1" height="6" fill="#b01a2c"/>
<rect x="541" y="448" width="3" height="3" fill="#aa1124"/>
<rect x="542" y="449" width="1" height="1" fill="#ff3046"/>
<rect x="545" y="452" width="3" height="3" fill="#0b7142"/>
<rect x="546" y="453" width="1" height="1" fill="#26b777"/>
<rect x="549" y="447" width="3" height="7" fill="#0b7142"/>
<rect x="550" y="448" width="1" height="5" fill="#26b777"/>
<rect x="555" y="441" width="1" height="9" fill="#147a4a"/>
<rect x="554" y="441" width="3" height="8" fill="#0b7142"/>
<rect x="555" y="442" width="1" height="6" fill="#26b777"/>
<rect x="559" y="432" width="1" height="11" fill="#147a4a"/>
<rect x="558" y="437" width="3" height="6" fill="#0b7142"/>
<rect x="559" y="438" width="1" height="4" fill="#26b777"/>
<rect x="563" y="436" width="1" height="8" fill="#147a4a"/>
<rect x="562" y="436" width="3" height="3" fill="#0b7142"/>
<rect x="563" y="437" width="1" height="1" fill="#26b777"/>
<rect x="566" y="434" width="3" height="4" fill="#0b7142"/>
<rect x="567" y="435" width="1" height="2" fill="#26b777"/>
<rect x="571" y="401" width="1" height="15" fill="#b01a2c"/>
<rect x="570" y="403" width="3" height="10" fill="#aa1124"/>
<rect x="571" y="404" width="1" height="8" fill="#ff3046"/>
<rect x="575" y="393" width="1" height="20" fill="#147a4a"/>
<rect x="574" y="394" width="3" height="19" fill="#0b7142"/>
<rect x="575" y="395" width="1" height="17" fill="#26b777"/>
<rect x="580" y="383" width="1" height="18" fill="#b01a2c"/>
<rect x="579" y="394" width="3" height="3" fill="#aa1124"/>
<rect x="580" y="395" width="1" height="1" fill="#ff3046"/>
<rect x="584" y="388" width="1" height="15" fill="#b01a2c"/>
<rect x="583" y="395" width="3" height="3" fill="#aa1124"/>
<rect x="584" y="396" width="1" height="1" fill="#ff3046"/>
<rect x="588" y="393" width="1" height="16" fill="#b01a2c"/>
<rect x="587" y="397" width="3" height="6" fill="#aa1124"/>
<rect x="588" y="398" width="1" height="4" fill="#ff3046"/>
<rect x="592" y="388" width="1" height="17" fill="#b01a2c"/>
<rect x="591" y="401" width="3" height="3" fill="#aa1124"/>
<rect x="592" y="402" width="1" height="1" fill="#ff3046"/>
<rect x="596" y="389" width="1" height="8" fill="#147a4a"/>
<rect x="595" y="389" width="3" height="5" fill="#0b7142"/>
<rect x="596" y="390" width="1" height="3" fill="#26b777"/>
<rect x="599" y="382" width="3" height="9" fill="#0b7142"/>
<rect x="600" y="383" width="1" height="7" fill="#26b777"/>
<rect x="605" y="353" width="1" height="32" fill="#147a4a"/>
<rect x="604" y="358" width="3" height="26" fill="#0b7142"/>
<rect x="605" y="359" width="1" height="24" fill="#26b777"/>
<rect x="609" y="348" width="1" height="20" fill="#b01a2c"/>
<rect x="608" y="358" width="3" height="3" fill="#aa1124"/>
<rect x="609" y="359" width="1" height="1" fill="#ff3046"/>
<rect x="613" y="355" width="1" height="28" fill="#b01a2c"/>
<rect x="612" y="359" width="3" height="17" fill="#aa1124"/>
<rect x="613" y="360" width="1" height="15" fill="#ff3046"/>
<rect x="617" y="369" width="1" height="28" fill="#147a4a"/>
<rect x="616" y="370" width="3" height="6" fill="#0b7142"/>
<rect x="617" y="371" width="1" height="4" fill="#26b777"/>
<rect x="621" y="365" width="1" height="9" fill="#147a4a"/>
<rect x="620" y="369" width="3" height="4" fill="#0b7142"/>
<rect x="621" y="370" width="1" height="2" fill="#26b777"/>
<rect x="625" y="355" width="1" height="17" fill="#147a4a"/>
<rect x="624" y="355" width="3" height="16" fill="#0b7142"/>
<rect x="625" y="356" width="1" height="14" fill="#26b777"/>
<rect x="630" y="353" width="1" height="17" fill="#b01a2c"/>
<rect x="629" y="355" width="3" height="13" fill="#aa1124"/>
<rect x="630" y="356" width="1" height="11" fill="#ff3046"/>
<rect x="634" y="362" width="1" height="21" fill="#b01a2c"/>
<rect x="633" y="366" width="3" height="10" fill="#aa1124"/>
<rect x="634" y="367" width="1" height="8" fill="#ff3046"/>
<rect x="638" y="371" width="1" height="10" fill="#147a4a"/>
<rect x="637" y="373" width="3" height="3" fill="#0b7142"/>
<rect x="638" y="374" width="1" height="1" fill="#26b777"/>
<rect x="642" y="366" width="1" height="12" fill="#147a4a"/>
<rect x="641" y="366" width="3" height="9" fill="#0b7142"/>
<rect x="642" y="367" width="1" height="7" fill="#26b777"/>
<rect x="646" y="356" width="1" height="8" fill="#147a4a"/>
<rect x="645" y="356" width="3" height="7" fill="#0b7142"/>
<rect x="646" y="357" width="1" height="5" fill="#26b777"/>
<rect x="650" y="351" width="1" height="18" fill="#b01a2c"/>
<rect x="649" y="357" width="3" height="7" fill="#aa1124"/>
<rect x="650" y="358" width="1" height="5" fill="#ff3046"/>
<rect x="655" y="354" width="1" height="20" fill="#b01a2c"/>
<rect x="654" y="361" width="3" height="3" fill="#aa1124"/>
<rect x="655" y="362" width="1" height="1" fill="#ff3046"/>
<rect x="659" y="353" width="1" height="11" fill="#147a4a"/>
<rect x="658" y="356" width="3" height="8" fill="#0b7142"/>
<rect x="659" y="357" width="1" height="6" fill="#26b777"/>
<rect x="663" y="344" width="1" height="15" fill="#147a4a"/>
<rect x="662" y="346" width="3" height="12" fill="#0b7142"/>
<rect x="663" y="347" width="1" height="10" fill="#26b777"/>
<rect x="667" y="340" width="1" height="19" fill="#b01a2c"/>
<rect x="666" y="346" width="3" height="11" fill="#aa1124"/>
<rect x="667" y="347" width="1" height="9" fill="#ff3046"/>
<rect x="670" y="352" width="3" height="10" fill="#0b7142"/>
<rect x="671" y="353" width="1" height="8" fill="#26b777"/>
<rect x="675" y="345" width="1" height="10" fill="#147a4a"/>
<rect x="674" y="346" width="3" height="8" fill="#0b7142"/>
<rect x="675" y="347" width="1" height="6" fill="#26b777"/>
<rect x="680" y="331" width="1" height="20" fill="#147a4a"/>
<rect x="679" y="333" width="3" height="15" fill="#0b7142"/>
<rect x="680" y="334" width="1" height="13" fill="#26b777"/>
<rect x="684" y="299" width="1" height="36" fill="#147a4a"/>
<rect x="683" y="301" width="3" height="34" fill="#0b7142"/>
<rect x="684" y="302" width="1" height="32" fill="#26b777"/>
<rect x="688" y="280" width="1" height="30" fill="#147a4a"/>
<rect x="687" y="285" width="3" height="18" fill="#0b7142"/>
<rect x="688" y="286" width="1" height="16" fill="#26b777"/>
<rect x="692" y="285" width="1" height="13" fill="#b01a2c"/>
<rect x="691" y="285" width="3" height="12" fill="#aa1124"/>
<rect x="692" y="286" width="1" height="10" fill="#ff3046"/>
<rect x="696" y="98" width="1" height="92" fill="#147a4a"/>
<rect x="695" y="126" width="3" height="60" fill="#0b7142"/>
<rect x="696" y="127" width="1" height="58" fill="#26b777"/>
<rect x="700" y="110" width="1" height="90" fill="#b01a2c"/>
<rect x="699" y="126" width="3" height="54" fill="#aa1124"/>
<rect x="700" y="127" width="1" height="52" fill="#ff3046"/>
<rect x="705" y="174" width="1" height="58" fill="#b01a2c"/>
<rect x="704" y="178" width="3" height="24" fill="#aa1124"/>
<rect x="705" y="179" width="1" height="22" fill="#ff3046"/>
<rect x="709" y="199" width="1" height="41" fill="#b01a2c"/>
<rect x="708" y="201" width="3" height="20" fill="#aa1124"/>
<rect x="709" y="202" width="1" height="18" fill="#ff3046"/>
<rect x="713" y="220" width="1" height="49" fill="#b01a2c"/>
<rect x="712" y="220" width="3" height="26" fill="#aa1124"/>
<rect x="713" y="221" width="1" height="24" fill="#ff3046"/>
<rect x="717" y="243" width="1" height="116" fill="#b01a2c"/>
<rect x="716" y="244" width="3" height="70" fill="#aa1124"/>
<rect x="717" y="245" width="1" height="68" fill="#ff3046"/>
<rect x="721" y="291" width="1" height="36" fill="#147a4a"/>
<rect x="720" y="295" width="3" height="9" fill="#0b7142"/>
<rect x="721" y="296" width="1" height="7" fill="#26b777"/>
<rect x="725" y="276" width="1" height="23" fill="#147a4a"/>
<rect x="724" y="284" width="3" height="13" fill="#0b7142"/>
<rect x="725" y="285" width="1" height="11" fill="#26b777"/>
<rect x="730" y="284" width="1" height="34" fill="#b01a2c"/>
<rect x="729" y="284" width="3" height="15" fill="#aa1124"/>
<rect x="730" y="285" width="1" height="13" fill="#ff3046"/>
<rect x="734" y="283" width="1" height="49" fill="#b01a2c"/>
<rect x="733" y="298" width="3" height="25" fill="#aa1124"/>
<rect x="734" y="299" width="1" height="23" fill="#ff3046"/>
<rect x="738" y="299" width="1" height="78" fill="#b01a2c"/>
<rect x="737" y="321" width="3" height="3" fill="#aa1124"/>
<rect x="738" y="322" width="1" height="1" fill="#ff3046"/>
<rect x="741" y="301" width="3" height="23" fill="#0b7142"/>
<rect x="742" y="302" width="1" height="21" fill="#26b777"/>
<rect x="746" y="309" width="1" height="28" fill="#b01a2c"/>
<rect x="745" y="310" width="3" height="16" fill="#aa1124"/>
<rect x="746" y="311" width="1" height="14" fill="#ff3046"/>
<rect x="750" y="323" width="1" height="17" fill="#b01a2c"/>
<rect x="749" y="324" width="3" height="8" fill="#aa1124"/>
<rect x="750" y="325" width="1" height="6" fill="#ff3046"/>
<rect x="755" y="291" width="1" height="41" fill="#147a4a"/>
<rect x="754" y="317" width="3" height="15" fill="#0b7142"/>
<rect x="755" y="318" width="1" height="13" fill="#26b777"/>
<rect x="759" y="296" width="1" height="37" fill="#147a4a"/>
<rect x="758" y="306" width="3" height="12" fill="#0b7142"/>
<rect x="759" y="307" width="1" height="10" fill="#26b777"/>
<rect x="763" y="290" width="1" height="19" fill="#147a4a"/>
<rect x="762" y="297" width="3" height="11" fill="#0b7142"/>
<rect x="763" y="298" width="1" height="9" fill="#26b777"/>
<rect x="766" y="285" width="3" height="13" fill="#0b7142"/>
<rect x="767" y="286" width="1" height="11" fill="#26b777"/>
<rect x="771" y="229" width="1" height="33" fill="#147a4a"/>
<rect x="770" y="239" width="3" height="20" fill="#0b7142"/>
<rect x="771" y="240" width="1" height="18" fill="#26b777"/>
<rect x="775" y="230" width="1" height="32" fill="#b01a2c"/>
<rect x="774" y="239" width="3" height="17" fill="#aa1124"/>
<rect x="775" y="240" width="1" height="15" fill="#ff3046"/>
<rect x="780" y="252" width="1" height="23" fill="#b01a2c"/>
<rect x="779" y="254" width="3" height="13" fill="#aa1124"/>
<rect x="780" y="255" width="1" height="11" fill="#ff3046"/>
<rect x="784" y="233" width="1" height="34" fill="#147a4a"/>
<rect x="783" y="235" width="3" height="32" fill="#0b7142"/>
<rect x="784" y="236" width="1" height="30" fill="#26b777"/>
<rect x="788" y="228" width="1" height="29" fill="#147a4a"/>
<rect x="787" y="229" width="3" height="8" fill="#0b7142"/>
<rect x="788" y="230" width="1" height="6" fill="#26b777"/>
<rect x="792" y="227" width="1" height="9" fill="#147a4a"/>
<rect x="791" y="227" width="3" height="4" fill="#0b7142"/>
<rect x="792" y="228" width="1" height="2" fill="#26b777"/>
<rect x="796" y="230" width="1" height="13" fill="#147a4a"/>
<rect x="795" y="231" width="3" height="3" fill="#0b7142"/>
<rect x="796" y="232" width="1" height="1" fill="#26b777"/>
<rect x="801" y="229" width="1" height="14" fill="#147a4a"/>
<rect x="800" y="229" width="3" height="4" fill="#0b7142"/>
<rect x="801" y="230" width="1" height="2" fill="#26b777"/>
<rect x="805" y="220" width="1" height="30" fill="#b01a2c"/>
<rect x="804" y="229" width="3" height="19" fill="#aa1124"/>
<rect x="805" y="230" width="1" height="17" fill="#ff3046"/>
<rect x="809" y="233" width="1" height="24" fill="#147a4a"/>
<rect x="808" y="233" width="3" height="15" fill="#0b7142"/>
<rect x="809" y="234" width="1" height="13" fill="#26b777"/>
<rect x="813" y="212" width="1" height="24" fill="#147a4a"/>
<rect x="812" y="223" width="3" height="13" fill="#0b7142"/>
<rect x="813" y="224" width="1" height="11" fill="#26b777"/>
<rect x="817" y="211" width="1" height="15" fill="#147a4a"/>
<rect x="816" y="211" width="3" height="14" fill="#0b7142"/>
<rect x="817" y="212" width="1" height="12" fill="#26b777"/>
<rect x="821" y="205" width="1" height="20" fill="#147a4a"/>
<rect x="820" y="207" width="3" height="6" fill="#0b7142"/>
<rect x="821" y="208" width="1" height="4" fill="#26b777"/>
<rect x="826" y="202" width="1" height="12" fill="#147a4a"/>
<rect x="825" y="206" width="3" height="3" fill="#0b7142"/>
<rect x="826" y="207" width="1" height="1" fill="#26b777"/>
<rect x="830" y="193" width="1" height="28" fill="#b01a2c"/>
<rect x="829" y="206" width="3" height="15" fill="#aa1124"/>
<rect x="830" y="207" width="1" height="13" fill="#ff3046"/>
<rect x="834" y="213" width="1" height="28" fill="#b01a2c"/>
<rect x="833" y="220" width="3" height="7" fill="#aa1124"/>
<rect x="834" y="221" width="1" height="5" fill="#ff3046"/>
<rect x="838" y="216" width="1" height="27" fill="#b01a2c"/>
<rect x="837" y="225" width="3" height="15" fill="#aa1124"/>
<rect x="838" y="226" width="1" height="13" fill="#ff3046"/>
<rect x="842" y="231" width="1" height="11" fill="#147a4a"/>
<rect x="841" y="233" width="3" height="7" fill="#0b7142"/>
<rect x="842" y="234" width="1" height="5" fill="#26b777"/>
<rect x="846" y="216" width="1" height="12" fill="#147a4a"/>
<rect x="845" y="216" width="3" height="9" fill="#0b7142"/>
<rect x="846" y="217" width="1" height="7" fill="#26b777"/>
<rect x="851" y="204" width="1" height="18" fill="#147a4a"/>
<rect x="850" y="211" width="3" height="8" fill="#0b7142"/>
<rect x="851" y="212" width="1" height="6" fill="#26b777"/>
<rect x="855" y="207" width="1" height="14" fill="#b01a2c"/>
<rect x="854" y="211" width="3" height="8" fill="#aa1124"/>
<rect x="855" y="212" width="1" height="6" fill="#ff3046"/>
<rect x="859" y="213" width="1" height="21" fill="#b01a2c"/>
<rect x="858" y="217" width="3" height="16" fill="#aa1124"/>
<rect x="859" y="218" width="1" height="14" fill="#ff3046"/>
<rect x="863" y="213" width="1" height="20" fill="#147a4a"/>
<rect x="862" y="214" width="3" height="19" fill="#0b7142"/>
<rect x="863" y="215" width="1" height="17" fill="#26b777"/>
<rect x="867" y="212" width="1" height="5" fill="#147a4a"/>
<rect x="866" y="214" width="3" height="3" fill="#0b7142"/>
<rect x="867" y="215" width="1" height="1" fill="#26b777"/>
<rect x="871" y="243" width="1" height="12" fill="#b01a2c"/>
<rect x="870" y="243" width="3" height="10" fill="#aa1124"/>
<rect x="871" y="244" width="1" height="8" fill="#ff3046"/>
<rect x="876" y="251" width="1" height="13" fill="#b01a2c"/>
<rect x="875" y="251" width="3" height="6" fill="#aa1124"/>
<rect x="876" y="252" width="1" height="4" fill="#ff3046"/>
<rect x="880" y="242" width="1" height="15" fill="#147a4a"/>
<rect x="879" y="243" width="3" height="14" fill="#0b7142"/>
<rect x="880" y="244" width="1" height="12" fill="#26b777"/>
<rect x="884" y="203" width="1" height="43" fill="#147a4a"/>
<rect x="883" y="208" width="3" height="37" fill="#0b7142"/>
<rect x="884" y="209" width="1" height="35" fill="#26b777"/>
<rect x="888" y="208" width="1" height="21" fill="#b01a2c"/>
<rect x="887" y="208" width="3" height="8" fill="#aa1124"/>
<rect x="888" y="209" width="1" height="6" fill="#ff3046"/>
<rect x="892" y="189" width="1" height="29" fill="#147a4a"/>
<rect x="891" y="203" width="3" height="13" fill="#0b7142"/>
<rect x="892" y="204" width="1" height="11" fill="#26b777"/>
<rect x="896" y="184" width="1" height="16" fill="#147a4a"/>
<rect x="895" y="190" width="3" height="9" fill="#0b7142"/>
<rect x="896" y="191" width="1" height="7" fill="#26b777"/>
<rect x="901" y="178" width="1" height="20" fill="#147a4a"/>
<rect x="900" y="178" width="3" height="13" fill="#0b7142"/>
<rect x="901" y="179" width="1" height="11" fill="#26b777"/>
<rect x="905" y="152" width="1" height="34" fill="#b01a2c"/>
<rect x="904" y="178" width="3" height="3" fill="#aa1124"/>
<rect x="905" y="179" width="1" height="1" fill="#ff3046"/>
<rect x="909" y="175" width="1" height="32" fill="#b01a2c"/>
<rect x="908" y="178" width="3" height="20" fill="#aa1124"/>
<rect x="909" y="179" width="1" height="18" fill="#ff3046"/>
<rect x="913" y="185" width="1" height="37" fill="#b01a2c"/>
<rect x="912" y="196" width="3" height="23" fill="#aa1124"/>
<rect x="913" y="197" width="1" height="21" fill="#ff3046"/>
<rect x="917" y="214" width="1" height="29" fill="#b01a2c"/>
<rect x="916" y="217" width="3" height="3" fill="#aa1124"/>
<rect x="917" y="218" width="1" height="1" fill="#ff3046"/>
<rect x="921" y="218" width="1" height="18" fill="#147a4a"/>
<rect x="920" y="223" width="3" height="4" fill="#0b7142"/>
<rect x="921" y="224" width="1" height="2" fill="#26b777"/>
<rect x="926" y="211" width="1" height="15" fill="#147a4a"/>
<rect x="925" y="212" width="3" height="13" fill="#0b7142"/>
<rect x="926" y="213" width="1" height="11" fill="#26b777"/>
<rect x="930" y="193" width="1" height="28" fill="#147a4a"/>
<rect x="929" y="202" width="3" height="12" fill="#0b7142"/>
<rect x="930" y="203" width="1" height="10" fill="#26b777"/>
<rect x="934" y="197" width="1" height="25" fill="#147a4a"/>
<rect x="933" y="197" width="3" height="7" fill="#0b7142"/>
<rect x="934" y="198" width="1" height="5" fill="#26b777"/>
<rect x="938" y="186" width="1" height="20" fill="#147a4a"/>
<rect x="937" y="187" width="3" height="12" fill="#0b7142"/>
<rect x="938" y="188" width="1" height="10" fill="#26b777"/>
<rect x="942" y="187" width="1" height="9" fill="#b01a2c"/>
<rect x="941" y="187" width="3" height="3" fill="#aa1124"/>
<rect x="942" y="188" width="1" height="1" fill="#ff3046"/>
<rect x="946" y="182" width="1" height="13" fill="#147a4a"/>
<rect x="945" y="183" width="3" height="5" fill="#0b7142"/>
<rect x="946" y="184" width="1" height="3" fill="#26b777"/>
<rect x="951" y="173" width="1" height="17" fill="#147a4a"/>
<rect x="950" y="174" width="3" height="10" fill="#0b7142"/>
<rect x="951" y="175" width="1" height="8" fill="#26b777"/>
<rect x="955" y="169" width="1" height="18" fill="#b01a2c"/>
<rect x="954" y="174" width="3" height="7" fill="#aa1124"/>
<rect x="955" y="175" width="1" height="5" fill="#ff3046"/>
<rect x="959" y="179" width="1" height="122" fill="#b01a2c"/>
<rect x="958" y="179" width="3" height="83" fill="#aa1124"/>
<rect x="959" y="180" width="1" height="81" fill="#ff3046"/>
<rect x="963" y="241" width="1" height="50" fill="#b01a2c"/>
<rect x="962" y="260" width="3" height="17" fill="#aa1124"/>
<rect x="963" y="261" width="1" height="15" fill="#ff3046"/>
<rect x="967" y="263" width="1" height="15" fill="#147a4a"/>
<rect x="966" y="268" width="3" height="9" fill="#0b7142"/>
<rect x="967" y="269" width="1" height="7" fill="#26b777"/>
<rect x="971" y="237" width="1" height="27" fill="#147a4a"/>
<rect x="970" y="241" width="3" height="21" fill="#0b7142"/>
<rect x="971" y="242" width="1" height="19" fill="#26b777"/>
<rect x="976" y="237" width="1" height="15" fill="#b01a2c"/>
<rect x="975" y="241" width="3" height="9" fill="#aa1124"/>
<rect x="976" y="242" width="1" height="7" fill="#ff3046"/>
<rect x="980" y="247" width="1" height="18" fill="#b01a2c"/>
<rect x="979" y="249" width="3" height="7" fill="#aa1124"/>
<rect x="980" y="250" width="1" height="5" fill="#ff3046"/>
<rect x="984" y="240" width="1" height="19" fill="#147a4a"/>
<rect x="983" y="249" width="3" height="7" fill="#0b7142"/>
<rect x="984" y="250" width="1" height="5" fill="#26b777"/>
<rect x="988" y="234" width="1" height="20" fill="#147a4a"/>
<rect x="987" y="239" width="3" height="11" fill="#0b7142"/>
<rect x="988" y="240" width="1" height="9" fill="#26b777"/>
<rect x="992" y="239" width="1" height="43" fill="#b01a2c"/>
<rect x="991" y="239" width="3" height="32" fill="#aa1124"/>
<rect x="992" y="240" width="1" height="30" fill="#ff3046"/>
<rect x="996" y="268" width="1" height="20" fill="#147a4a"/>
<rect x="995" y="269" width="3" height="3" fill="#0b7142"/>
<rect x="996" y="270" width="1" height="1" fill="#26b777"/>
<rect x="1001" y="262" width="1" height="12" fill="#147a4a"/>
<rect x="1000" y="265" width="3" height="6" fill="#0b7142"/>
<rect x="1001" y="266" width="1" height="4" fill="#26b777"/>
<rect x="1005" y="265" width="1" height="20" fill="#b01a2c"/>
<rect x="1004" y="265" width="3" height="17" fill="#aa1124"/>
<rect x="1005" y="266" width="1" height="15" fill="#ff3046"/>
<rect x="1009" y="264" width="1" height="22" fill="#147a4a"/>
<rect x="1008" y="266" width="3" height="17" fill="#0b7142"/>
<rect x="1009" y="267" width="1" height="15" fill="#26b777"/>
<rect x="1013" y="251" width="1" height="17" fill="#147a4a"/>
<rect x="1012" y="252" width="3" height="16" fill="#0b7142"/>
<rect x="1013" y="253" width="1" height="14" fill="#26b777"/>
<rect x="1017" y="252" width="1" height="6" fill="#b01a2c"/>
<rect x="1016" y="252" width="3" height="3" fill="#aa1124"/>
<rect x="1017" y="253" width="1" height="1" fill="#ff3046"/>
<rect x="1020" y="248" width="3" height="8" fill="#0b7142"/>
<rect x="1021" y="249" width="1" height="6" fill="#26b777"/>
<rect x="1026" y="245" width="1" height="8" fill="#147a4a"/>
<rect x="1025" y="245" width="3" height="5" fill="#0b7142"/>
<rect x="1026" y="246" width="1" height="3" fill="#26b777"/>
<rect x="1030" y="233" width="1" height="14" fill="#147a4a"/>
<rect x="1029" y="235" width="3" height="12" fill="#0b7142"/>
<rect x="1030" y="236" width="1" height="10" fill="#26b777"/>
<rect x="1034" y="224" width="1" height="15" fill="#147a4a"/>
<rect x="1033" y="230" width="3" height="7" fill="#0b7142"/>
<rect x="1034" y="231" width="1" height="5" fill="#26b777"/>
<rect x="1038" y="222" width="1" height="10" fill="#147a4a"/>
<rect x="1037" y="228" width="3" height="4" fill="#0b7142"/>
<rect x="1038" y="229" width="1" height="2" fill="#26b777"/>
<rect x="1042" y="227" width="1" height="34" fill="#b01a2c"/>
<rect x="1041" y="228" width="3" height="12" fill="#aa1124"/>
<rect x="1042" y="229" width="1" height="10" fill="#ff3046"/>
<rect x="1046" y="228" width="1" height="18" fill="#147a4a"/>
<rect x="1045" y="234" width="3" height="5" fill="#0b7142"/>
<rect x="1046" y="235" width="1" height="3" fill="#26b777"/>
<rect x="1050" y="224" width="3" height="12" fill="#0b7142"/>
<rect x="1051" y="225" width="1" height="10" fill="#26b777"/>
<rect x="1054" y="207" width="3" height="19" fill="#0b7142"/>
<rect x="1055" y="208" width="1" height="17" fill="#26b777"/>
<rect x="1059" y="205" width="1" height="15" fill="#b01a2c"/>
<rect x="1058" y="207" width="3" height="6" fill="#aa1124"/>
<rect x="1059" y="208" width="1" height="4" fill="#ff3046"/>
<rect x="1063" y="198" width="1" height="20" fill="#147a4a"/>
<rect x="1062" y="202" width="3" height="11" fill="#0b7142"/>
<rect x="1063" y="203" width="1" height="9" fill="#26b777"/>
<rect x="1066" y="189" width="3" height="16" fill="#0b7142"/>
<rect x="1067" y="190" width="1" height="14" fill="#26b777"/>
<rect x="1071" y="171" width="1" height="19" fill="#b01a2c"/>
<rect x="1070" y="175" width="3" height="6" fill="#aa1124"/>
<rect x="1071" y="176" width="1" height="4" fill="#ff3046"/>
<rect x="1076" y="173" width="1" height="16" fill="#b01a2c"/>
<rect x="1075" y="179" width="3" height="5" fill="#aa1124"/>
<rect x="1076" y="180" width="1" height="3" fill="#ff3046"/>
<rect x="1080" y="172" width="1" height="14" fill="#b01a2c"/>
<rect x="1079" y="182" width="3" height="3" fill="#aa1124"/>
<rect x="1080" y="183" width="1" height="1" fill="#ff3046"/>
<rect x="1084" y="176" width="1" height="19" fill="#147a4a"/>
<rect x="1083" y="178" width="3" height="6" fill="#0b7142"/>
<rect x="1084" y="179" width="1" height="4" fill="#26b777"/>
<rect x="1088" y="178" width="1" height="13" fill="#b01a2c"/>
<rect x="1087" y="178" width="3" height="7" fill="#aa1124"/>
<rect x="1088" y="179" width="1" height="5" fill="#ff3046"/>
<rect x="1092" y="175" width="1" height="14" fill="#147a4a"/>
<rect x="1091" y="176" width="3" height="9" fill="#0b7142"/>
<rect x="1092" y="177" width="1" height="7" fill="#26b777"/>
<rect x="1096" y="167" width="1" height="38" fill="#b01a2c"/>
<rect x="1095" y="172" width="3" height="29" fill="#aa1124"/>
<rect x="1096" y="173" width="1" height="27" fill="#ff3046"/>
<rect x="1101" y="182" width="1" height="19" fill="#147a4a"/>
<rect x="1100" y="188" width="3" height="13" fill="#0b7142"/>
<rect x="1101" y="189" width="1" height="11" fill="#26b777"/>
<rect x="1105" y="180" width="1" height="17" fill="#147a4a"/>
<rect x="1104" y="181" width="3" height="9" fill="#0b7142"/>
<rect x="1105" y="182" width="1" height="7" fill="#26b777"/>
<rect x="1109" y="179" width="1" height="13" fill="#b01a2c"/>
<rect x="1108" y="181" width="3" height="11" fill="#aa1124"/>
<rect x="1109" y="182" width="1" height="9" fill="#ff3046"/>
<rect x="1113" y="181" width="1" height="39" fill="#b01a2c"/>
<rect x="1112" y="190" width="3" height="16" fill="#aa1124"/>
<rect x="1113" y="191" width="1" height="14" fill="#ff3046"/>
<rect x="1117" y="204" width="1" height="16" fill="#b01a2c"/>
<rect x="1116" y="204" width="3" height="13" fill="#aa1124"/>
<rect x="1117" y="205" width="1" height="11" fill="#ff3046"/>
<rect x="1120" y="197" width="3" height="13" fill="#0b7142"/>
<rect x="1121" y="198" width="1" height="11" fill="#26b777"/>
<rect x="1126" y="197" width="1" height="22" fill="#b01a2c"/>
<rect x="1125" y="197" width="3" height="20" fill="#aa1124"/>
<rect x="1126" y="198" width="1" height="18" fill="#ff3046"/>
<rect x="1130" y="211" width="1" height="40" fill="#147a4a"/>
<rect x="1129" y="212" width="3" height="6" fill="#0b7142"/>
<rect x="1130" y="213" width="1" height="4" fill="#26b777"/>
<rect x="1134" y="210" width="1" height="26" fill="#b01a2c"/>
<rect x="1133" y="212" width="3" height="20" fill="#aa1124"/>
<rect x="1134" y="213" width="1" height="18" fill="#ff3046"/>
<rect x="1138" y="222" width="1" height="19" fill="#b01a2c"/>
<rect x="1137" y="231" width="3" height="6" fill="#aa1124"/>
<rect x="1138" y="232" width="1" height="4" fill="#ff3046"/>
<rect x="1142" y="228" width="1" height="11" fill="#b01a2c"/>
<rect x="1141" y="235" width="3" height="3" fill="#aa1124"/>
<rect x="1142" y="236" width="1" height="1" fill="#ff3046"/>
<rect x="1146" y="194" width="1" height="52" fill="#147a4a"/>
<rect x="1145" y="196" width="3" height="45" fill="#0b7142"/>
<rect x="1146" y="197" width="1" height="43" fill="#26b777"/>
<rect x="1151" y="181" width="1" height="19" fill="#147a4a"/>
<rect x="1150" y="181" width="3" height="17" fill="#0b7142"/>
<rect x="1151" y="182" width="1" height="15" fill="#26b777"/>
<rect x="1155" y="173" width="1" height="14" fill="#147a4a"/>
<rect x="1154" y="178" width="3" height="4" fill="#0b7142"/>
<rect x="1155" y="179" width="1" height="2" fill="#26b777"/>
<rect x="1159" y="169" width="1" height="13" fill="#b01a2c"/>
<rect x="1158" y="178" width="3" height="3" fill="#aa1124"/>
<rect x="1159" y="179" width="1" height="1" fill="#ff3046"/>
<rect x="1163" y="175" width="1" height="27" fill="#147a4a"/>
<rect x="1162" y="176" width="3" height="5" fill="#0b7142"/>
<rect x="1163" y="177" width="1" height="3" fill="#26b777"/>
<rect x="1167" y="173" width="1" height="8" fill="#147a4a"/>
<rect x="1166" y="173" width="3" height="5" fill="#0b7142"/>
<rect x="1167" y="174" width="1" height="3" fill="#26b777"/>
<rect x="1171" y="158" width="1" height="7" fill="#b01a2c"/>
<rect x="1170" y="159" width="3" height="5" fill="#aa1124"/>
<rect x="1171" y="160" width="1" height="3" fill="#ff3046"/>
<rect x="1176" y="162" width="1" height="12" fill="#b01a2c"/>
<rect x="1175" y="162" width="3" height="7" fill="#aa1124"/>
<rect x="1176" y="163" width="1" height="5" fill="#ff3046"/>
<rect x="1180" y="164" width="1" height="26" fill="#b01a2c"/>
<rect x="1179" y="167" width="3" height="11" fill="#aa1124"/>
<rect x="1180" y="168" width="1" height="9" fill="#ff3046"/>
<rect x="1184" y="172" width="1" height="12" fill="#147a4a"/>
<rect x="1183" y="172" width="3" height="6" fill="#0b7142"/>
<rect x="1184" y="173" width="1" height="4" fill="#26b777"/>
<rect x="1188" y="159" width="1" height="23" fill="#147a4a"/>
<rect x="1187" y="159" width="3" height="15" fill="#0b7142"/>
<rect x="1188" y="160" width="1" height="13" fill="#26b777"/>
<rect x="1192" y="159" width="1" height="16" fill="#b01a2c"/>
<rect x="1191" y="159" width="3" height="12" fill="#aa1124"/>
<rect x="1192" y="160" width="1" height="10" fill="#ff3046"/>
<rect x="1196" y="157" width="1" height="17" fill="#147a4a"/>
<rect x="1195" y="157" width="3" height="11" fill="#0b7142"/>
<rect x="1196" y="158" width="1" height="9" fill="#26b777"/>
<rect x="1201" y="154" width="1" height="7" fill="#b01a2c"/>
<rect x="1200" y="157" width="3" height="3" fill="#aa1124"/>
<rect x="1201" y="158" width="1" height="1" fill="#ff3046"/>
<rect x="1205" y="155" width="1" height="31" fill="#b01a2c"/>
<rect x="1204" y="158" width="3" height="17" fill="#aa1124"/>
<rect x="1205" y="159" width="1" height="15" fill="#ff3046"/>
<rect x="1209" y="157" width="1" height="21" fill="#147a4a"/>
<rect x="1208" y="162" width="3" height="13" fill="#0b7142"/>
<rect x="1209" y="163" width="1" height="11" fill="#26b777"/>
<rect x="1213" y="156" width="1" height="23" fill="#b01a2c"/>
<rect x="1212" y="162" width="3" height="5" fill="#aa1124"/>
<rect x="1213" y="163" width="1" height="3" fill="#ff3046"/>
<rect x="1217" y="166" width="1" height="41" fill="#b01a2c"/>
<rect x="1216" y="166" width="3" height="35" fill="#aa1124"/>
<rect x="1217" y="167" width="1" height="33" fill="#ff3046"/>
<rect x="1221" y="268" width="1" height="29" fill="#147a4a"/>
<rect x="1220" y="277" width="3" height="20" fill="#0b7142"/>
<rect x="1221" y="278" width="1" height="18" fill="#26b777"/>
<rect x="1226" y="267" width="1" height="19" fill="#b01a2c"/>
<rect x="1225" y="277" width="3" height="9" fill="#aa1124"/>
<rect x="1226" y="278" width="1" height="7" fill="#ff3046"/>
<rect x="1230" y="269" width="1" height="25" fill="#147a4a"/>
<rect x="1229" y="280" width="3" height="6" fill="#0b7142"/>
<rect x="1230" y="281" width="1" height="4" fill="#26b777"/>
<rect x="1234" y="276" width="1" height="34" fill="#b01a2c"/>
<rect x="1233" y="280" width="3" height="18" fill="#aa1124"/>
<rect x="1234" y="281" width="1" height="16" fill="#ff3046"/>
<rect x="1238" y="270" width="1" height="28" fill="#147a4a"/>
<rect x="1237" y="275" width="3" height="23" fill="#0b7142"/>
<rect x="1238" y="276" width="1" height="21" fill="#26b777"/>
<rect x="1242" y="260" width="1" height="23" fill="#147a4a"/>
<rect x="1241" y="267" width="3" height="10" fill="#0b7142"/>
<rect x="1242" y="268" width="1" height="8" fill="#26b777"/>
<rect x="1246" y="255" width="1" height="12" fill="#b01a2c"/>
<rect x="1245" y="259" width="3" height="4" fill="#aa1124"/>
<rect x="1246" y="260" width="1" height="2" fill="#ff3046"/>
<rect x="1251" y="258" width="1" height="7" fill="#b01a2c"/>
<rect x="1250" y="261" width="3" height="3" fill="#aa1124"/>
<rect x="1251" y="262" width="1" height="1" fill="#ff3046"/>
<rect x="1255" y="251" width="1" height="15" fill="#147a4a"/>
<rect x="1254" y="254" width="3" height="10" fill="#0b7142"/>
<rect x="1255" y="255" width="1" height="8" fill="#26b777"/>
<rect x="1259" y="248" width="1" height="10" fill="#147a4a"/>
<rect x="1258" y="249" width="3" height="7" fill="#0b7142"/>
<rect x="1259" y="250" width="1" height="5" fill="#26b777"/>
<rect x="1263" y="244" width="1" height="37" fill="#b01a2c"/>
<rect x="1262" y="249" width="3" height="29" fill="#aa1124"/>
<rect x="1263" y="250" width="1" height="27" fill="#ff3046"/>
<rect x="1267" y="259" width="1" height="19" fill="#147a4a"/>
<rect x="1266" y="265" width="3" height="13" fill="#0b7142"/>
<rect x="1267" y="266" width="1" height="11" fill="#26b777"/>
<rect x="1271" y="261" width="1" height="8" fill="#b01a2c"/>
<rect x="1270" y="263" width="3" height="4" fill="#aa1124"/>
<rect x="1271" y="264" width="1" height="2" fill="#ff3046"/>
<rect x="1276" y="262" width="1" height="6" fill="#147a4a"/>
<rect x="1275" y="262" width="3" height="5" fill="#0b7142"/>
<rect x="1276" y="263" width="1" height="3" fill="#26b777"/>
<rect x="1280" y="253" width="1" height="15" fill="#b01a2c"/>
<rect x="1279" y="262" width="3" height="4" fill="#aa1124"/>
<rect x="1280" y="263" width="1" height="2" fill="#ff3046"/>
<rect x="1284" y="262" width="1" height="15" fill="#b01a2c"/>
<rect x="1283" y="264" width="3" height="6" fill="#aa1124"/>
<rect x="1284" y="265" width="1" height="4" fill="#ff3046"/>
<rect x="1288" y="259" width="1" height="16" fill="#147a4a"/>
<rect x="1287" y="265" width="3" height="5" fill="#0b7142"/>
<rect x="1288" y="266" width="1" height="3" fill="#26b777"/>
<rect x="1292" y="264" width="1" height="18" fill="#b01a2c"/>
<rect x="1291" y="265" width="3" height="15" fill="#aa1124"/>
<rect x="1292" y="266" width="1" height="13" fill="#ff3046"/>
<rect x="1296" y="214" width="1" height="16" fill="#b01a2c"/>
<rect x="1295" y="214" width="3" height="14" fill="#aa1124"/>
<rect x="1296" y="215" width="1" height="12" fill="#ff3046"/>
<rect x="1301" y="222" width="1" height="7" fill="#147a4a"/>
<rect x="1300" y="225" width="3" height="4" fill="#0b7142"/>
<rect x="1301" y="226" width="1" height="2" fill="#26b777"/>
<rect x="1305" y="216" width="1" height="15" fill="#147a4a"/>
<rect x="1304" y="220" width="3" height="7" fill="#0b7142"/>
<rect x="1305" y="221" width="1" height="5" fill="#26b777"/>
<rect x="1309" y="220" width="1" height="29" fill="#b01a2c"/>
<rect x="1308" y="220" width="3" height="18" fill="#aa1124"/>
<rect x="1309" y="221" width="1" height="16" fill="#ff3046"/>
<rect x="1313" y="224" width="1" height="23" fill="#b01a2c"/>
<rect x="1312" y="237" width="3" height="9" fill="#aa1124"/>
<rect x="1313" y="238" width="1" height="7" fill="#ff3046"/>
<rect x="1317" y="241" width="1" height="17" fill="#b01a2c"/>
<rect x="1316" y="244" width="3" height="11" fill="#aa1124"/>
<rect x="1317" y="245" width="1" height="9" fill="#ff3046"/>
<rect x="1321" y="254" width="1" height="11" fill="#147a4a"/>
<rect x="1320" y="254" width="3" height="7" fill="#0b7142"/>
<rect x="1321" y="255" width="1" height="5" fill="#26b777"/>
<rect x="1326" y="249" width="1" height="8" fill="#147a4a"/>
<rect x="1325" y="249" width="3" height="7" fill="#0b7142"/>
<rect x="1326" y="250" width="1" height="5" fill="#26b777"/>
<rect x="1330" y="244" width="1" height="14" fill="#147a4a"/>
<rect x="1329" y="248" width="3" height="3" fill="#0b7142"/>
<rect x="1330" y="249" width="1" height="1" fill="#26b777"/>
<rect x="1334" y="245" width="1" height="19" fill="#b01a2c"/>
<rect x="1333" y="248" width="3" height="16" fill="#aa1124"/>
<rect x="1334" y="249" width="1" height="14" fill="#ff3046"/>
<rect x="1338" y="262" width="1" height="17" fill="#b01a2c"/>
<rect x="1337" y="262" width="3" height="15" fill="#aa1124"/>
<rect x="1338" y="263" width="1" height="13" fill="#ff3046"/>
<rect x="1342" y="274" width="1" height="6" fill="#147a4a"/>
<rect x="1341" y="274" width="3" height="3" fill="#0b7142"/>
<rect x="1342" y="275" width="1" height="1" fill="#26b777"/>
<rect x="1346" y="278" width="1" height="6" fill="#b01a2c"/>
<rect x="1345" y="278" width="3" height="3" fill="#aa1124"/>
<rect x="1346" y="279" width="1" height="1" fill="#ff3046"/>
<rect x="1351" y="270" width="1" height="11" fill="#147a4a"/>
<rect x="1350" y="273" width="3" height="8" fill="#0b7142"/>
<rect x="1351" y="274" width="1" height="6" fill="#26b777"/>
<rect x="1355" y="267" width="1" height="15" fill="#147a4a"/>
<rect x="1354" y="267" width="3" height="8" fill="#0b7142"/>
<rect x="1355" y="268" width="1" height="6" fill="#26b777"/>
<rect x="1359" y="263" width="1" height="19" fill="#b01a2c"/>
<rect x="1358" y="267" width="3" height="13" fill="#aa1124"/>
<rect x="1359" y="268" width="1" height="11" fill="#ff3046"/>
<rect x="1363" y="269" width="1" height="14" fill="#147a4a"/>
<rect x="1362" y="271" width="3" height="9" fill="#0b7142"/>
<rect x="1363" y="272" width="1" height="7" fill="#26b777"/>
<rect x="1367" y="271" width="1" height="8" fill="#b01a2c"/>
<rect x="1366" y="271" width="3" height="7" fill="#aa1124"/>
<rect x="1367" y="272" width="1" height="5" fill="#ff3046"/>
<rect x="1370" y="275" width="3" height="5" fill="#0b7142"/>
<rect x="1371" y="276" width="1" height="3" fill="#26b777"/>
<rect x="1376" y="274" width="1" height="5" fill="#b01a2c"/>
<rect x="1375" y="275" width="3" height="3" fill="#aa1124"/>
<rect x="1376" y="276" width="1" height="1" fill="#ff3046"/>
<rect x="1380" y="263" width="1" height="16" fill="#147a4a"/>
<rect x="1379" y="265" width="3" height="14" fill="#0b7142"/>
<rect x="1380" y="266" width="1" height="12" fill="#26b777"/>
<rect x="1384" y="256" width="1" height="17" fill="#147a4a"/>
<rect x="1383" y="257" width="3" height="9" fill="#0b7142"/>
<rect x="1384" y="258" width="1" height="7" fill="#26b777"/>
<rect x="1387" y="241" width="3" height="18" fill="#0b7142"/>
<rect x="1388" y="242" width="1" height="16" fill="#26b777"/>
<rect x="1391" y="241" width="3" height="13" fill="#aa1124"/>
<rect x="1392" y="242" width="1" height="11" fill="#ff3046"/>
<rect x="1396" y="290" width="1" height="5" fill="#147a4a"/>
<rect x="1395" y="292" width="3" height="3" fill="#0b7142"/>
<rect x="1396" y="293" width="1" height="1" fill="#26b777"/>
<rect x="1400" y="292" width="3" height="4" fill="#aa1124"/>
<rect x="1401" y="293" width="1" height="2" fill="#ff3046"/>
<rect x="1405" y="290" width="1" height="19" fill="#b01a2c"/>
<rect x="1404" y="295" width="3" height="13" fill="#aa1124"/>
<rect x="1405" y="296" width="1" height="11" fill="#ff3046"/>
<rect x="1409" y="305" width="1" height="27" fill="#b01a2c"/>
<rect x="1408" y="306" width="3" height="24" fill="#aa1124"/>
<rect x="1409" y="307" width="1" height="22" fill="#ff3046"/>
</g>
<line x1="1.5" y1="311.5" x2="1541" y2="312.5" stroke="#05a1f1" stroke-width="3" stroke-dasharray="8 8" stroke-linecap="round"/>
<rect x="0" y="330" width="1574" height="1" fill="#868f94" shape-rendering="crispEdges"/>
<polyline points="5.5,690.6 9.5,684.3 13.5,682.8 17.5,681.2 21.5,678.2 25.5,677.2 30.5,673.7 34.5,667.1 38.5,679.7 42.5,678.0 46.5,688.3 50.5,694.0 55.5,689.6 59.5,683.9 63.5,692.8 67.5,687.1 71.5,707.5 75.5,710.8 80.5,708.8 84.5,708.8 88.5,708.6 92.5,706.0 96.5,708.8 100.5,708.8 105.5,704.8 109.5,702.0 113.5,699.1 117.5,694.6 121.5,696.8 125.5,696.8 130.5,698.0 134.5,699.1 138.5,687.7 142.5,691.1 146.5,698.8 150.5,696.8 155.5,694.9 159.5,699.7 163.5,701.8 167.5,702.6 171.5,701.9 175.5,695.7 180.5,701.9 184.5,699.8 188.5,694.7 192.5,699.3 196.5,704.0 200.5,705.2 205.5,697.0 209.5,694.7 213.5,690.5 217.5,691.6 221.5,693.1 225.5,692.1 230.5,691.9 234.5,690.0 238.5,698.1 242.5,695.2 246.5,691.6 250.5,693.3 255.5,687.9 259.5,683.3 263.5,695.2 267.5,693.6 271.5,693.6 275.5,694.7 280.5,700.4 284.5,704.5 288.5,716.2 292.5,713.1 296.5,714.0 300.5,713.3 305.5,707.8 309.5,712.0 313.5,707.8 317.5,710.2 321.5,708.1 325.5,707.8 330.5,707.1 334.5,700.4 338.5,696.7 342.5,697.8 346.5,700.7 350.5,702.9 355.5,698.8 359.5,711.7 363.5,711.7 367.5,711.7 371.5,716.7 375.5,716.2 380.5,705.5 384.5,691.6 388.5,685.7 392.5,687.1 396.5,684.8 400.5,686.1 405.5,680.7 409.5,677.8 413.5,676.6 417.5,675.0 421.5,677.8 425.5,676.9 430.5,687.1 434.5,684.8 438.5,682.8 442.5,685.7 446.5,692.6 450.5,696.0 455.5,690.8 459.5,684.8 463.5,693.9 467.5,692.9 471.5,688.8 475.5,688.8 480.5,696.7 484.5,693.1 488.5,699.1 492.5,697.0 496.5,695.0 500.5,699.0 505.5,699.0 509.5,705.2 513.5,700.0 517.5,700.0 521.5,700.7 525.5,700.7 530.5,712.9 534.5,705.2 538.5,695.6 542.5,697.4 546.5,703.4 550.5,695.9 555.5,688.1 559.5,685.5 563.5,684.5 567.5,682.9 571.5,669.5 575.5,664.8 580.5,667.2 584.5,668.2 588.5,672.8 592.5,674.1 596.5,669.0 600.5,667.2 605.5,661.7 609.5,662.8 613.5,678.3 617.5,676.9 621.5,676.0 625.5,671.8 630.5,680.9 634.5,688.1 638.5,687.1 642.5,684.5 646.5,680.9 650.5,685.0 655.5,686.0 659.5,682.4 663.5,678.8 667.5,685.7 671.5,685.2 675.5,682.3 680.5,677.4 684.5,669.7 688.5,666.8 692.5,674.6 696.5,656.7 700.5,673.8 705.5,681.0 709.5,685.7 713.5,690.6 717.5,701.7 721.5,699.7 725.5,697.8 730.5,701.5 734.5,704.0 738.5,704.8 742.5,700.7 746.5,704.8 750.5,706.2 755.5,702.8 759.5,700.7 763.5,698.6 767.5,697.1 771.5,688.8 775.5,691.9 780.5,695.0 784.5,689.8 788.5,689.1 792.5,688.8 796.5,689.5 801.5,689.8 805.5,695.0 809.5,691.9 813.5,690.4 817.5,686.7 821.5,686.0 826.5,685.8 830.5,690.7 834.5,693.3 838.5,698.1 842.5,696.2 846.5,691.6 851.5,690.0 855.5,693.3 859.5,697.8 863.5,692.9 867.5,692.9 871.5,706.0 876.5,707.3 880.5,702.4 884.5,692.6 888.5,695.2 892.5,692.1 896.5,689.0 901.5,686.9 905.5,686.9 909.5,694.1 913.5,700.9 917.5,700.9 921.5,703.2 926.5,698.1 930.5,695.2 934.5,693.3 938.5,690.8 942.5,692.3 946.5,690.2 951.5,687.7 955.5,690.0 959.5,716.2 963.5,719.2 967.5,715.9 971.5,706.6 976.5,708.6 980.5,710.9 984.5,708.6 988.5,704.8 992.5,713.1 996.5,713.0 1001.5,711.7 1005.5,714.8 1009.5,709.7 1013.5,705.0 1017.5,705.0 1021.5,704.0 1026.5,702.9 1030.5,698.5 1034.5,696.7 1038.5,696.7 1042.5,700.9 1046.5,698.8 1051.5,695.7 1055.5,690.0 1059.5,692.1 1063.5,689.5 1067.5,684.8 1071.5,681.7 1076.5,684.3 1080.5,684.0 1084.5,682.8 1088.5,685.9 1092.5,682.8 1096.5,696.2 1101.5,691.6 1105.5,690.0 1109.5,694.1 1113.5,700.4 1117.5,706.0 1121.5,697.8 1126.5,705.0 1130.5,704.0 1134.5,709.7 1138.5,711.7 1142.5,712.0 1146.5,696.7 1151.5,691.6 1155.5,690.8 1159.5,692.1 1163.5,691.0 1167.5,690.0 1171.5,685.3 1176.5,689.0 1180.5,693.9 1184.5,691.6 1188.5,687.7 1192.5,693.1 1196.5,688.8 1201.5,688.8 1205.5,696.7 1209.5,692.9 1213.5,694.7 1217.5,706.6 1221.5,724.7 1226.5,725.7 1230.5,724.7 1234.5,727.0 1238.5,719.5 1242.5,715.7 1246.5,713.8 1251.5,714.8 1255.5,711.7 1259.5,709.9 1263.5,715.9 1267.5,711.7 1271.5,711.7 1276.5,710.7 1280.5,711.7 1284.5,713.0 1288.5,710.9 1292.5,716.4 1296.5,696.0 1301.5,695.7 1305.5,693.9 1309.5,700.9 1313.5,702.9 1317.5,705.7 1321.5,705.7 1326.5,704.0 1330.5,704.0 1334.5,708.6 1338.5,712.8 1342.5,712.8 1346.5,714.8 1351.5,710.2 1355.5,707.6 1359.5,713.0 1363.5,708.6 1367.5,710.9 1371.5,710.2 1376.5,710.9 1380.5,704.0 1384.5,699.3 1388.5,692.9 1392.5,699.3 1396.5,714.0 1401.5,714.8 1405.5,717.9 1409.5,723.3" fill="none" stroke="#1f2c34" stroke-width="1.9" stroke-linejoin="round" stroke-linecap="round"/>
<line x1="1.5" y1="722.5" x2="1547" y2="723.5" stroke="#05a1f1" stroke-width="3" stroke-dasharray="8 8" stroke-linecap="round"/>
<rect x="1541" y="305" width="35" height="15" fill="#05a1f1"/>
<rect x="1547" y="716" width="29" height="15" fill="#05a1f1"/>
<polygon points="1572.5,330.5 1580,322 1632,322 1632,339 1580,339" fill="#87949b"/>
<polygon points="66,16.2 72.6,16.2 69.3,19.6" fill="#777"/>
<polygon points="142.1,17 149,17 145.55,20.4" fill="#777"/>
<text transform="translate(20,22.8) scale(0.9363,1)" font-size="11.6" fill="#2a3c48" font-weight="bold" font-family="Liberation Sans, sans-serif" >OIL</text>
<text transform="translate(43,21.9) scale(0.8399,1)" font-size="8.4" fill="#777" font-weight="bold" font-family="Liberation Sans, sans-serif" >CFD</text>
<text transform="translate(115.6,22.8) scale(0.9026,1)" font-size="10.4" fill="#3a4a55" font-weight="normal" font-family="Liberation Sans, sans-serif"  stroke="#3a4a55" stroke-width="0.15">H4</text>
<text x="1584.3" y="58.9" font-size="12" fill="#2b3a44" font-weight="normal" text-anchor="start" font-family="Liberation Sans, sans-serif"  stroke="#2b3a44" stroke-width="0.25">125.43</text>
<text x="1584.3" y="95.7" font-size="12" fill="#2b3a44" font-weight="normal" text-anchor="start" font-family="Liberation Sans, sans-serif"  stroke="#2b3a44" stroke-width="0.25">120.37</text>
<text x="1584.3" y="132.4" font-size="12" fill="#2b3a44" font-weight="normal" text-anchor="start" font-family="Liberation Sans, sans-serif"  stroke="#2b3a44" stroke-width="0.25">115.32</text>
<text x="1584.3" y="169.2" font-size="12" fill="#2b3a44" font-weight="normal" text-anchor="start" font-family="Liberation Sans, sans-serif"  stroke="#2b3a44" stroke-width="0.25">110.27</text>
<text x="1584.3" y="205.9" font-size="12" fill="#2b3a44" font-weight="normal" text-anchor="start" font-family="Liberation Sans, sans-serif"  stroke="#2b3a44" stroke-width="0.25">105.22</text>
<text x="1584.3" y="242.7" font-size="12" fill="#2b3a44" font-weight="normal" text-anchor="start" font-family="Liberation Sans, sans-serif"  stroke="#2b3a44" stroke-width="0.25">100.16</text>
<text x="1584.3" y="279.5" font-size="12" fill="#2b3a44" font-weight="normal" text-anchor="start" font-family="Liberation Sans, sans-serif"  stroke="#2b3a44" stroke-width="0.25">95.11</text>
<text x="1584.3" y="316.2" font-size="12" fill="#2b3a44" font-weight="normal" text-anchor="start" font-family="Liberation Sans, sans-serif"  stroke="#2b3a44" stroke-width="0.25">90.06</text>
<text x="1584.3" y="353.0" font-size="12" fill="#2b3a44" font-weight="normal" text-anchor="start" font-family="Liberation Sans, sans-serif"  stroke="#2b3a44" stroke-width="0.25">85.00</text>
<text x="1584.3" y="389.7" font-size="12" fill="#2b3a44" font-weight="normal" text-anchor="start" font-family="Liberation Sans, sans-serif"  stroke="#2b3a44" stroke-width="0.25">79.95</text>
<text x="1584.3" y="426.5" font-size="12" fill="#2b3a44" font-weight="normal" text-anchor="start" font-family="Liberation Sans, sans-serif"  stroke="#2b3a44" stroke-width="0.25">74.90</text>
<text x="1584.3" y="463.3" font-size="12" fill="#2b3a44" font-weight="normal" text-anchor="start" font-family="Liberation Sans, sans-serif"  stroke="#2b3a44" stroke-width="0.25">69.84</text>
<text x="1584.3" y="500.0" font-size="12" fill="#2b3a44" font-weight="normal" text-anchor="start" font-family="Liberation Sans, sans-serif"  stroke="#2b3a44" stroke-width="0.25">64.79</text>
<text x="1584.3" y="536.8" font-size="12" fill="#2b3a44" font-weight="normal" text-anchor="start" font-family="Liberation Sans, sans-serif"  stroke="#2b3a44" stroke-width="0.25">59.74</text>
<text x="1584.3" y="567.6" font-size="12" fill="#2b3a44" font-weight="normal" text-anchor="start" font-family="Liberation Sans, sans-serif"  stroke="#2b3a44" stroke-width="0.25">54.68</text>
<text x="1584.3" y="580.2" font-size="12" fill="#2b3a44" font-weight="normal" text-anchor="start" font-family="Liberation Sans, sans-serif"  stroke="#2b3a44" stroke-width="0.25">530188</text>
<text x="1584.3" y="601.0" font-size="12" fill="#2b3a44" font-weight="normal" text-anchor="start" font-family="Liberation Sans, sans-serif"  stroke="#2b3a44" stroke-width="0.25">353459</text>
<text x="1584.3" y="629.0" font-size="12" fill="#2b3a44" font-weight="normal" text-anchor="start" font-family="Liberation Sans, sans-serif"  stroke="#2b3a44" stroke-width="0.25">176729</text>
<text x="1584.3" y="651.8" font-size="12" fill="#2b3a44" font-weight="normal" text-anchor="start" font-family="Liberation Sans, sans-serif"  stroke="#2b3a44" stroke-width="0.25">0</text>
<text x="1584.3" y="684.2" font-size="12" fill="#2b3a44" font-weight="normal" text-anchor="start" font-family="Liberation Sans, sans-serif"  stroke="#2b3a44" stroke-width="0.25">70.0</text>
<text x="1584.3" y="727.3" font-size="12" fill="#2b3a44" font-weight="normal" text-anchor="start" font-family="Liberation Sans, sans-serif"  stroke="#2b3a44" stroke-width="0.25">30.0</text>
<text x="1546.4" y="316.6" font-size="11" fill="#fff" font-weight="normal" text-anchor="start" font-family="Liberation Sans, sans-serif"  stroke="#fff" stroke-width="0.2">90.00</text>
<text x="1551.5" y="727.6" font-size="11" fill="#fff" font-weight="normal" text-anchor="start" font-family="Liberation Sans, sans-serif"  stroke="#fff" stroke-width="0.2">30.0</text>
<text x="1584.3" y="334.8" font-size="12" fill="#fff" font-weight="normal" text-anchor="start" font-family="Liberation Sans, sans-serif"  stroke="#fff" stroke-width="0.5">87.54</text>
<text x="1521" y="554" font-size="13.8" font-family="Liberation Sans, sans-serif"><tspan fill="#ff8c00" stroke="#ff8c00" stroke-width="0.55">01</tspan><tspan fill="#a5afb6" stroke="#a5afb6" stroke-width="0.3">h</tspan><tspan fill="#ff8c00" stroke="#ff8c00" stroke-width="0.55"> 10</tspan><tspan fill="#a5afb6" stroke="#a5afb6" stroke-width="0.3">m</tspan></text>
<text x="5.1" y="757" font-size="12" fill="#2b3a44" font-weight="normal" text-anchor="start" font-family="Liberation Sans, sans-serif"  stroke="#2b3a44" stroke-width="0.25">28.01.2026 08:00</text>
<text x="135.0" y="757" font-size="12" fill="#2b3a44" font-weight="normal" text-anchor="start" font-family="Liberation Sans, sans-serif"  stroke="#2b3a44" stroke-width="0.25">04.02 12:00</text>
<text x="264.0" y="757" font-size="12" fill="#2b3a44" font-weight="normal" text-anchor="start" font-family="Liberation Sans, sans-serif"  stroke="#2b3a44" stroke-width="0.25">11.02 16:00</text>
<text x="393.0" y="757" font-size="12" fill="#2b3a44" font-weight="normal" text-anchor="start" font-family="Liberation Sans, sans-serif"  stroke="#2b3a44" stroke-width="0.25">18.02 20:00</text>
<text x="522.0" y="757" font-size="12" fill="#2b3a44" font-weight="normal" text-anchor="start" font-family="Liberation Sans, sans-serif"  stroke="#2b3a44" stroke-width="0.25">26.02 00:00</text>
<text x="651.0" y="757" font-size="12" fill="#2b3a44" font-weight="normal" text-anchor="start" font-family="Liberation Sans, sans-serif"  stroke="#2b3a44" stroke-width="0.25">05.03 04:00</text>
<text x="781.0" y="757" font-size="12" fill="#2b3a44" font-weight="normal" text-anchor="start" font-family="Liberation Sans, sans-serif"  stroke="#2b3a44" stroke-width="0.25">12.03 08:00</text>
<text x="910.0" y="757" font-size="12" fill="#2b3a44" font-weight="normal" text-anchor="start" font-family="Liberation Sans, sans-serif"  stroke="#2b3a44" stroke-width="0.25">19.03 12:00</text>
<text x="1039.0" y="757" font-size="12" fill="#2b3a44" font-weight="normal" text-anchor="start" font-family="Liberation Sans, sans-serif"  stroke="#2b3a44" stroke-width="0.25">26.03 16:00</text>
<text x="1168.0" y="757" font-size="12" fill="#2b3a44" font-weight="normal" text-anchor="start" font-family="Liberation Sans, sans-serif"  stroke="#2b3a44" stroke-width="0.25">02.04 20:00</text>
<text x="1297.0" y="757" font-size="12" fill="#2b3a44" font-weight="normal" text-anchor="start" font-family="Liberation Sans, sans-serif"  stroke="#2b3a44" stroke-width="0.25">13.04 00:00</text>
<text x="1427.0" y="757" font-size="12" fill="#2b3a44" font-weight="normal" text-anchor="start" font-family="Liberation Sans, sans-serif"  stroke="#2b3a44" stroke-width="0.25">18.04 04:00</text>
<text x="1556.0" y="757" font-size="12" fill="#2b3a44" font-weight="normal" text-anchor="start" font-family="Liberation Sans, sans-serif"  stroke="#2b3a44" stroke-width="0.25">23.04 08:00</text>
<rect x="6.1" y="635.0" width="9.8" height="1.8" fill="#b4b4b4"/>
<rect x="6.1" y="638.2" width="9.8" height="2.1" fill="#b4b4b4"/>
<rect x="6.1" y="641.9" width="9.8" height="1.6" fill="#b4b4b4"/>
<rect x="13.1" y="638.8" width="2" height="0.9" fill="#d9d9d9"/>
<path d="M21.1 636.2 l6.2 6.6 M27.299999999999997 636.2 l-6.2 6.6" stroke="#b2b2b2" stroke-width="2.6" fill="none"/>
<text transform="translate(31.6,645.9) scale(0.9720,1)" font-size="10.3" fill="#444" font-weight="normal" font-family="Liberation Sans, sans-serif" opacity="0.88" stroke="#444" stroke-width="0.25">Wolumen (tickowy) 91444</text>
<rect x="6.1" y="731.3" width="9.8" height="1.8" fill="#b4b4b4"/>
<rect x="6.1" y="734.5" width="9.8" height="2.1" fill="#b4b4b4"/>
<rect x="6.1" y="738.1999999999999" width="9.8" height="1.6" fill="#b4b4b4"/>
<rect x="13.1" y="735.0999999999999" width="2" height="0.9" fill="#d9d9d9"/>
<path d="M21.1 732.5 l6.2 6.6 M27.299999999999997 732.5 l-6.2 6.6" stroke="#b2b2b2" stroke-width="2.6" fill="none"/>
<text transform="translate(31.3,741.8) scale(0.9209,1)" font-size="10.4" fill="#555" font-weight="normal" font-family="Liberation Sans, sans-serif"  stroke="#555" stroke-width="0.15">RSI [14] 29.9</text>
</svg>
</body></html>
